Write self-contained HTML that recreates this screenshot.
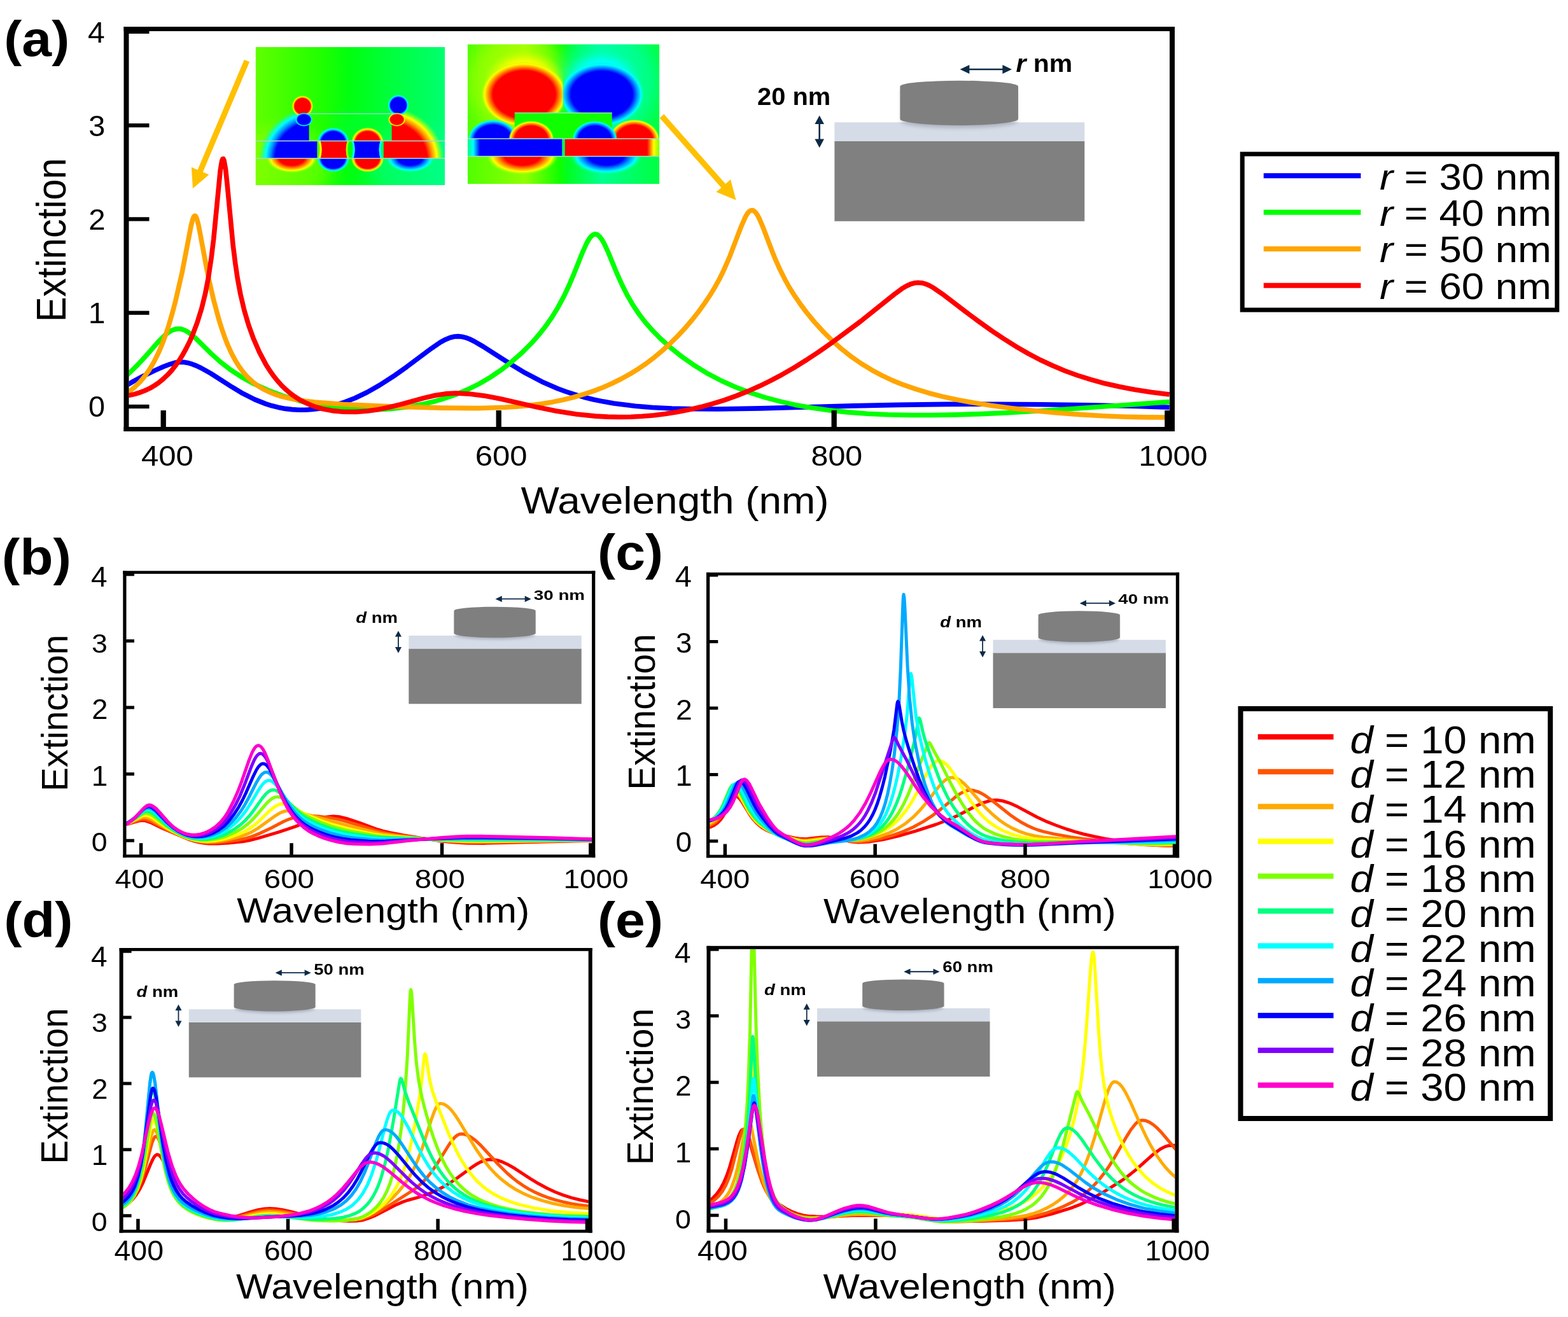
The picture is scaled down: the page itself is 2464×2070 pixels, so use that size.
<!DOCTYPE html>
<html><head><meta charset="utf-8"><title>Extinction spectra</title>
<style>
html,body{margin:0;padding:0;background:#fff;}
svg{display:block;}
text{font-family:"Liberation Sans", Arial, Helvetica, sans-serif;}
</style></head>
<body>
<svg width="2464" height="2070" viewBox="0 0 2464 2070">
<rect width="2464" height="2070" fill="#fff"/>
<defs>
<filter id="blur3" x="-20%" y="-50%" width="140%" height="200%"><feGaussianBlur stdDeviation="3"/></filter>
<filter id="blur12" x="-50%" y="-50%" width="200%" height="200%"><feGaussianBlur stdDeviation="12"/></filter>
<clipPath id="clipa"><rect x="202.5" y="49" width="1635.5" height="622"/></clipPath>
<clipPath id="clipb"><rect x="198.5" y="901.9" width="731.6" height="441.3"/></clipPath>
<clipPath id="clipc"><rect x="1115.3" y="904.4" width="732.5" height="439.2"/></clipPath>
<clipPath id="clipd"><rect x="193.6" y="1494.8" width="731.1" height="438"/></clipPath>
<clipPath id="clipe"><rect x="1116.5" y="1491.8" width="729.9" height="440.6"/></clipPath>
</defs>
<g clip-path="url(#clipa)" fill="none" stroke-width="7.6" stroke-linejoin="round"><path d="M193.5,608.7L208.7,599.9L224.0,591.7L241.6,583.1L256.9,576.3L267.5,572.3L275.7,569.9L281.6,569.1L288.7,569.2L294.5,570.2L301.6,572.2L308.6,574.9L315.7,578.2L331.0,586.8L365.1,608.6L381.5,618.4L400.3,627.9L417.9,634.9L427.3,637.8L437.9,640.4L448.5,642.4L459.1,643.6L469.7,644.2L480.2,644.2L490.8,643.5L502.6,642.1L520.2,638.6L539.0,633.0L557.8,625.7L576.6,616.7L596.6,605.4L617.7,591.8L638.9,576.8L677.7,547.8L691.8,538.2L700.0,533.7L707.1,530.7L714.1,529.0L720.0,528.6L725.9,529.2L731.7,530.6L737.6,532.8L744.7,536.2L760.0,545.1L804.6,573.8L825.8,586.4L851.6,599.9L876.3,610.7L889.2,615.5L903.3,620.2L917.4,624.2L932.7,628.0L948.0,631.1L964.5,634.0L998.5,638.3L1025.6,640.5L1056.1,642.0L1090.2,642.8L1127.8,643.0L1194.8,641.9L1340.5,637.9L1412.2,636.4L1488.6,635.4L1565.0,635.2L1636.7,635.7L1711.9,636.8L1777.8,638.3L1837.7,640.3" stroke="#0000ff"/><path d="M193.5,594.9L205.2,584.4L217.0,572.8L227.5,561.4L248.7,537.3L259.3,526.7L265.2,522.1L271.0,518.8L276.9,517.0L281.6,516.7L285.1,517.3L289.8,518.9L294.5,521.4L299.2,524.7L307.5,531.7L332.1,556.0L346.2,568.7L362.7,581.5L379.2,592.3L399.1,603.3L421.5,613.5L445.0,622.3L469.7,629.7L483.8,633.2L497.9,636.2L526.1,640.7L554.3,643.3L583.7,644.0L598.9,643.5L613.0,642.7L641.2,639.5L668.3,634.5L681.2,631.3L694.1,627.6L714.1,620.9L734.1,612.6L752.9,603.3L770.5,593.0L788.2,581.0L804.6,568.2L819.9,554.7L835.2,539.4L846.9,526.1L857.5,512.6L866.9,499.2L876.3,484.0L885.7,466.6L893.9,449.2L901.0,432.6L915.1,397.3L922.1,381.8L925.7,375.7L929.2,371.2L932.7,368.6L935.1,367.9L938.6,368.8L942.1,371.6L945.6,376.3L949.2,382.4L955.1,395.0L969.2,429.1L977.4,447.5L985.6,463.9L995.0,480.1L1004.4,494.0L1013.8,506.2L1025.6,519.7L1037.3,531.6L1053.8,546.5L1072.6,561.4L1092.6,575.3L1112.5,587.4L1133.7,598.5L1154.9,608.0L1177.2,616.6L1201.9,624.6L1225.4,630.9L1250.1,636.4L1275.9,641.0L1304.1,644.9L1332.3,647.9L1362.9,650.2L1395.8,651.7L1429.9,652.5L1464.0,652.5L1501.6,651.9L1541.5,650.6L1583.8,648.7L1674.3,643.2L1837.7,631.6" stroke="#00ff00"/><path d="M193.5,621.9L202.9,615.6L212.3,607.9L220.5,599.7L227.5,591.3L234.6,581.3L241.6,569.4L248.7,555.3L254.6,541.5L260.5,525.6L265.2,511.4L271.0,491.4L275.7,473.6L286.3,427.5L300.4,354.0L302.8,344.8L303.9,341.7L305.1,339.8L306.3,339.2L307.5,340.0L308.6,342.1L309.8,345.4L312.2,354.9L325.1,423.8L329.8,446.2L335.7,471.4L343.9,502.0L348.6,517.1L353.3,530.6L358.0,542.5L363.9,555.5L369.8,566.6L375.6,576.0L382.7,585.5L389.7,593.4L396.8,599.9L405.0,606.2L413.2,611.3L421.5,615.4L430.9,619.3L441.4,622.8L453.2,625.8L465.0,628.1L479.1,630.3L494.3,632.1L539.0,635.5L607.2,638.6L693.0,641.1L750.6,641.6L794.0,640.3L814.0,638.9L832.8,637.1L850.5,634.8L868.1,631.9L884.5,628.5L901.0,624.5L917.4,619.7L932.7,614.6L948.0,608.7L962.1,602.5L976.2,595.5L990.3,587.7L1003.2,579.7L1016.2,570.8L1029.1,560.9L1040.8,551.1L1052.6,540.4L1064.4,528.8L1076.1,516.2L1086.7,503.8L1097.3,490.5L1107.8,475.9L1116.1,463.5L1123.1,451.9L1130.2,439.2L1137.2,425.0L1146.6,403.5L1164.3,357.0L1171.3,340.9L1174.8,335.1L1177.2,332.5L1179.5,330.9L1181.9,330.5L1184.2,331.2L1187.8,334.4L1190.1,337.8L1193.6,344.4L1198.3,355.4L1211.3,389.7L1218.3,407.3L1225.4,423.1L1233.6,439.5L1240.6,452.0L1248.9,465.2L1258.3,478.9L1267.7,491.4L1280.6,507.0L1294.7,522.4L1308.8,536.3L1322.9,548.8L1338.2,560.9L1353.5,571.5L1369.9,581.6L1386.4,590.4L1402.8,598.1L1420.5,605.2L1439.3,611.7L1459.3,617.7L1480.4,623.1L1503.9,628.2L1529.8,633.0L1556.8,637.3L1588.5,641.5L1622.6,645.3L1659.1,648.7L1697.8,651.6L1734.3,653.7L1770.7,655.2L1804.8,655.9L1837.7,656.0" stroke="#ffa500"/><path d="M193.5,622.8L202.9,621.4L211.1,619.6L219.3,617.1L227.5,614.0L235.8,610.1L242.8,606.0L249.9,601.1L256.9,595.3L264.0,588.6L269.9,582.1L275.7,574.7L281.6,566.4L287.5,556.9L292.2,548.4L298.1,536.6L302.8,525.9L309.8,507.4L316.9,484.7L322.7,460.8L327.4,436.5L332.1,405.2L335.7,375.6L346.2,267.6L348.6,253.3L349.8,250.0L350.9,249.7L352.1,252.4L354.5,265.7L356.8,287.1L366.2,385.5L369.8,414.1L373.3,437.7L378.0,463.0L383.9,488.0L390.9,511.8L398.0,531.4L407.4,553.1L417.9,572.9L423.8,582.3L429.7,590.6L435.6,598.0L442.6,605.9L449.7,612.7L456.7,618.6L463.8,623.8L472.0,628.9L480.2,633.1L488.5,636.7L496.7,639.7L506.1,642.4L522.5,645.6L540.2,647.3L559.0,647.4L577.8,646.0L595.4,643.4L613.0,639.7L629.5,635.6L665.9,625.6L683.6,621.5L700.0,618.9L716.5,618.0L738.8,619.2L762.3,622.3L787.0,627.0L844.6,640.1L874.0,646.0L905.7,651.0L936.2,654.1L955.1,655.1L972.7,655.5L991.5,655.2L1009.1,654.3L1027.9,652.7L1045.6,650.5L1064.4,647.6L1082.0,644.1L1100.8,639.8L1119.6,634.7L1138.4,628.8L1157.2,622.1L1176.0,614.6L1193.6,606.8L1211.3,598.2L1228.9,588.8L1247.7,578.0L1266.5,566.3L1286.5,553.1L1307.6,538.3L1352.3,505.1L1405.2,462.8L1416.9,454.1L1424.0,449.8L1431.0,446.5L1436.9,444.8L1442.8,444.2L1448.7,444.7L1454.6,446.3L1460.4,448.8L1467.5,452.8L1481.6,462.6L1516.8,489.6L1539.2,506.1L1559.2,520.3L1576.8,532.1L1596.8,544.7L1615.6,555.6L1634.4,565.5L1653.2,574.3L1673.2,582.7L1693.1,590.0L1714.3,596.7L1736.6,602.8L1759.0,607.8L1783.6,612.5L1809.5,616.5L1837.7,620.0" stroke="#ff0000"/></g>
<g clip-path="url(#clipb)" fill="none" stroke-width="5" stroke-linejoin="round"><path d="M193.2,1296.4L202.8,1294.7L219.8,1289.9L224.1,1289.5L228.7,1290.1L236.7,1292.8L258.9,1303.5L296.6,1319.3L304.0,1321.7L313.2,1324.0L320.6,1325.3L327.7,1325.9L342.2,1325.9L358.9,1324.9L381.4,1322.7L392.2,1320.9L405.8,1317.4L437.9,1307.8L464.1,1299.1L485.4,1290.7L494.6,1287.6L511.3,1284.2L523.6,1283.0L532.9,1283.8L544.3,1286.4L565.3,1293.3L592.7,1303.5L601.7,1306.2L611.6,1308.5L633.8,1312.8L664.0,1317.7L689.6,1321.4L710.6,1323.8L734.0,1325.3L760.6,1325.4L933.3,1321.2" stroke="#ff0000"/><path d="M193.2,1296.4L203.7,1294.1L220.7,1288.1L225.0,1287.6L229.3,1288.1L237.3,1290.9L261.1,1303.6L281.8,1313.0L292.9,1317.6L301.2,1320.4L309.8,1322.6L318.2,1324.1L325.9,1324.8L338.8,1324.5L353.3,1323.3L374.0,1320.2L386.7,1317.7L397.2,1314.4L408.9,1309.6L426.5,1301.2L445.6,1291.2L454.8,1287.3L461.6,1285.4L470.6,1283.6L478.9,1282.7L487.9,1282.3L499.9,1283.0L519.0,1285.4L529.8,1287.4L541.2,1290.4L565.0,1297.4L590.9,1305.6L607.9,1309.6L627.6,1312.9L652.6,1316.3L682.5,1320.1L705.0,1322.4L730.7,1324.0L756.9,1324.2L933.3,1320.9" stroke="#ff5500"/><path d="M193.2,1296.2L198.8,1294.9L204.3,1293.0L221.6,1285.3L225.6,1284.5L229.6,1284.7L233.9,1286.0L238.9,1288.3L258.3,1300.3L271.0,1307.0L284.2,1313.4L295.0,1317.7L305.2,1320.7L316.6,1322.7L325.9,1323.3L337.3,1322.8L348.4,1321.5L357.4,1319.9L375.9,1315.3L387.3,1311.4L395.9,1307.4L404.9,1302.1L430.5,1283.7L438.5,1278.6L442.8,1276.6L446.8,1275.2L450.8,1274.4L455.2,1274.2L460.1,1274.7L467.8,1276.4L550.2,1298.4L595.5,1309.7L604.5,1311.3L621.1,1313.5L671.7,1318.9L709.7,1322.0L740.8,1323.1L772.9,1323.0L933.3,1320.7" stroke="#ffaa00"/><path d="M193.2,1296.1L199.1,1294.4L204.9,1292.0L222.8,1282.4L226.5,1281.4L230.2,1281.5L234.9,1282.8L239.8,1285.4L259.2,1299.0L271.0,1306.0L282.7,1312.1L293.2,1316.5L304.0,1319.8L316.0,1321.8L326.2,1322.2L338.2,1321.2L348.7,1319.4L357.0,1317.3L374.3,1311.5L385.4,1306.4L393.4,1301.5L401.5,1295.4L408.9,1288.8L423.7,1274.4L430.5,1268.8L434.2,1266.4L437.9,1264.7L441.3,1263.8L445.0,1263.6L449.3,1264.2L453.9,1265.7L458.9,1268.1L473.7,1276.6L482.9,1281.1L505.4,1290.2L521.2,1295.7L535.7,1299.9L549.9,1303.4L587.8,1311.1L602.9,1313.4L624.8,1315.4L680.4,1319.6L706.6,1321.1L729.4,1321.9L765.8,1322.0L933.3,1320.5" stroke="#ffff00"/><path d="M193.2,1296.0L199.7,1293.8L205.9,1290.9L223.8,1279.6L227.5,1278.3L231.2,1278.3L235.8,1279.6L241.0,1282.6L259.9,1297.3L271.0,1304.7L281.5,1310.6L291.6,1315.1L302.7,1318.5L314.8,1320.4L325.6,1320.6L337.6,1319.1L347.8,1316.8L356.1,1314.1L371.9,1306.9L381.7,1301.1L389.1,1295.5L396.8,1288.2L403.6,1280.8L417.2,1264.6L423.4,1258.3L426.8,1255.6L430.2,1253.7L433.2,1252.7L436.6,1252.4L441.9,1253.6L447.4,1256.6L452.7,1260.6L467.8,1273.5L478.3,1280.7L488.8,1286.1L506.1,1293.5L523.3,1299.5L541.8,1304.6L555.1,1307.3L593.1,1313.9L611.9,1315.7L661.9,1318.3L694.9,1319.8L723.9,1320.7L759.7,1320.9L933.3,1320.3" stroke="#80ff00"/><path d="M193.2,1296.1L200.0,1293.5L206.5,1290.1L225.0,1276.7L228.7,1275.2L232.1,1275.0L236.7,1276.5L242.0,1279.6L260.8,1295.9L271.3,1303.6L280.8,1309.3L290.4,1313.8L301.8,1317.4L313.5,1319.1L325.0,1319.0L337.0,1317.0L346.9,1314.2L355.2,1310.9L369.7,1302.3L378.3,1296.0L385.4,1289.5L392.5,1281.6L399.0,1273.2L412.0,1254.9L417.5,1248.2L420.6,1245.2L423.7,1243.1L426.5,1241.9L429.5,1241.5L432.0,1241.9L434.5,1242.7L440.0,1246.4L445.3,1251.5L459.5,1267.6L466.3,1274.4L474.9,1281.5L484.5,1287.5L502.4,1295.8L518.4,1301.7L537.8,1307.1L556.3,1310.7L585.0,1315.0L599.8,1316.6L668.3,1318.7L735.9,1319.7L865.2,1319.7L933.3,1320.1" stroke="#00ff80"/><path d="M193.2,1296.2L200.6,1293.1L207.4,1289.1L226.2,1273.8L229.6,1272.2L233.0,1271.9L237.7,1273.3L242.9,1276.6L261.7,1294.2L271.9,1302.3L280.8,1308.0L289.8,1312.3L295.7,1314.4L301.2,1315.8L312.6,1317.2L318.5,1317.2L324.3,1316.7L336.1,1314.0L345.6,1310.5L354.3,1306.0L367.2,1295.7L373.7,1289.8L380.8,1281.9L387.6,1272.7L393.8,1263.0L406.1,1242.0L411.3,1234.3L414.4,1230.8L417.2,1228.4L420.0,1227.0L422.8,1226.6L425.2,1227.1L427.7,1228.2L432.9,1232.8L438.2,1239.4L452.1,1259.9L459.8,1270.2L468.1,1279.1L477.4,1286.7L483.2,1290.4L489.7,1293.9L507.9,1301.8L526.1,1307.6L544.9,1312.0L583.5,1317.2L604.2,1318.6L817.7,1318.9L933.3,1319.9" stroke="#00ffff"/><path d="M193.2,1296.5L200.6,1293.2L207.7,1288.7L212.7,1284.7L222.8,1275.0L226.9,1271.8L230.2,1270.1L233.6,1269.8L238.3,1271.2L243.5,1274.8L262.0,1293.2L271.6,1301.3L280.2,1307.1L289.2,1311.5L295.0,1313.6L300.6,1315.0L306.1,1315.8L312.0,1316.1L317.9,1315.9L323.7,1315.1L329.6,1313.8L335.4,1311.9L345.0,1307.6L353.7,1302.2L360.1,1296.3L371.2,1284.5L378.0,1275.6L384.5,1265.3L390.4,1254.6L402.4,1230.9L407.3,1222.4L410.4,1218.3L413.2,1215.6L416.0,1214.0L418.4,1213.6L420.6,1214.0L423.1,1215.4L425.5,1217.5L428.3,1220.8L433.6,1228.9L447.4,1254.0L455.2,1266.4L463.8,1277.7L473.0,1286.9L478.9,1291.4L485.1,1295.3L492.2,1299.0L501.1,1303.0L518.4,1309.2L537.5,1314.1L547.1,1315.8L558.2,1317.2L583.2,1319.7L598.3,1320.4L736.8,1317.5L856.5,1318.5L933.3,1319.8" stroke="#00aaff"/><path d="M193.2,1296.9L200.9,1293.2L208.0,1288.4L213.3,1283.8L223.5,1273.5L227.5,1270.0L230.9,1268.2L233.9,1267.8L236.4,1268.3L238.9,1269.4L244.1,1273.1L262.3,1292.2L271.9,1300.7L280.2,1306.5L288.6,1310.7L294.1,1312.7L299.7,1314.0L304.9,1314.8L310.8,1314.9L316.9,1314.5L322.8,1313.5L328.4,1311.9L334.2,1309.7L343.8,1304.6L352.7,1297.9L358.9,1291.3L368.2,1279.2L374.6,1269.4L381.1,1257.5L387.0,1245.1L398.1,1219.8L403.0,1210.0L405.8,1205.7L408.6,1202.5L411.0,1200.7L413.5,1200.2L415.7,1200.6L418.1,1202.1L420.6,1204.7L423.4,1208.6L428.3,1217.6L442.2,1247.6L449.6,1261.9L458.5,1275.8L463.2,1281.6L467.8,1286.7L473.0,1291.5L478.9,1296.0L485.1,1299.9L491.9,1303.5L501.1,1307.6L509.8,1310.8L519.3,1313.8L529.2,1316.3L540.9,1318.6L551.7,1320.1L579.5,1322.2L591.5,1322.6L606.0,1322.3L640.6,1320.2L701.3,1317.4L734.7,1316.5L851.3,1317.8L933.3,1319.6" stroke="#0000ff"/><path d="M193.2,1297.5L200.9,1293.7L208.3,1288.5L213.6,1283.8L224.1,1272.7L228.1,1269.1L231.5,1267.2L234.6,1266.7L239.2,1268.2L244.4,1272.0L249.1,1276.6L262.9,1292.0L271.9,1300.2L279.9,1305.9L288.2,1310.1L293.5,1311.9L299.0,1313.2L304.3,1313.8L310.2,1313.7L316.0,1313.0L321.9,1311.7L327.7,1309.7L333.3,1307.1L341.9,1301.7L349.9,1294.8L355.8,1288.2L362.3,1278.5L370.3,1264.8L377.1,1250.8L383.3,1235.8L394.7,1205.6L399.3,1195.0L402.1,1190.0L404.6,1186.8L407.0,1184.8L409.5,1184.2L411.7,1184.8L414.1,1186.6L416.6,1189.5L419.4,1194.1L424.3,1204.5L438.2,1239.1L445.6,1255.6L449.9,1264.0L454.5,1271.8L459.2,1278.6L463.8,1284.5L469.0,1290.2L474.9,1295.5L481.1,1300.2L487.9,1304.4L495.6,1308.3L504.5,1312.1L513.8,1315.4L523.6,1318.2L536.3,1321.0L548.0,1322.7L560.4,1323.6L586.0,1324.7L603.5,1324.0L640.3,1320.8L699.2,1316.8L733.7,1315.4L772.0,1315.6L847.9,1317.1L933.3,1319.4" stroke="#7f00ff"/><path d="M193.2,1298.0L200.3,1294.3L206.8,1289.9L213.9,1283.4L227.5,1268.7L231.5,1265.9L234.9,1265.1L237.3,1265.6L239.8,1266.7L245.1,1270.6L249.7,1275.4L263.3,1291.0L271.9,1299.2L279.6,1304.8L287.6,1308.9L292.9,1310.6L298.1,1311.8L303.4,1312.2L308.9,1312.0L314.8,1311.1L320.3,1309.5L325.9,1307.3L331.4,1304.4L339.2,1299.1L346.6,1292.2L353.0,1284.4L358.3,1276.1L367.5,1258.1L373.7,1244.1L379.9,1227.8L391.3,1194.9L395.9,1183.4L398.7,1178.0L401.2,1174.4L403.6,1172.3L406.1,1171.6L408.6,1172.5L411.0,1174.7L413.5,1178.1L416.3,1183.2L421.2,1194.9L434.8,1232.5L442.5,1251.6L446.8,1260.8L451.4,1269.5L456.1,1277.1L460.7,1283.6L466.3,1290.3L472.1,1296.2L478.3,1301.4L485.1,1306.2L492.2,1310.2L500.5,1314.1L509.8,1317.7L519.3,1320.6L532.6,1323.8L545.2,1325.7L557.6,1326.5L581.3,1327.1L601.4,1326.0L640.3,1321.5L697.3,1316.3L716.5,1315.0L732.8,1314.3L756.6,1314.3L790.5,1314.9L875.0,1317.1L933.3,1319.2" stroke="#ff00cc"/></g>
<g clip-path="url(#clipc)" fill="none" stroke-width="5" stroke-linejoin="round"><path d="M1111.1,1301.5L1117.3,1299.5L1122.5,1296.9L1127.4,1293.4L1131.7,1289.1L1135.4,1284.3L1138.8,1278.8L1150.5,1255.4L1152.9,1252.2L1155.4,1250.9L1157.3,1251.2L1159.1,1252.2L1163.1,1256.2L1166.5,1261.1L1178.8,1281.2L1183.4,1287.4L1188.0,1292.6L1192.9,1297.2L1198.5,1301.4L1204.3,1304.8L1210.5,1307.5L1224.9,1311.8L1248.0,1316.9L1256.3,1318.3L1266.8,1318.7L1290.8,1316.0L1301.8,1315.8L1313.8,1317.5L1338.2,1323.0L1348.9,1324.1L1367.1,1322.9L1388.0,1319.5L1411.4,1314.1L1438.4,1306.4L1470.4,1296.0L1488.9,1289.0L1504.0,1282.2L1533.8,1266.8L1545.5,1261.6L1556.3,1258.4L1561.5,1257.7L1566.4,1257.6L1576.3,1259.0L1586.7,1262.3L1599.3,1268.1L1629.5,1284.3L1645.5,1291.7L1659.0,1297.0L1675.6,1303.0L1689.5,1307.4L1702.7,1311.0L1719.3,1314.8L1736.3,1318.1L1760.6,1322.0L1783.0,1325.1L1801.5,1327.2L1818.4,1328.6L1834.1,1329.2L1849.2,1329.3" stroke="#ff0000"/><path d="M1111.1,1299.3L1116.6,1297.2L1121.9,1294.4L1126.5,1290.8L1130.5,1286.6L1134.2,1281.6L1137.6,1275.9L1149.6,1251.0L1152.3,1247.6L1153.6,1246.9L1154.8,1246.8L1156.3,1247.2L1158.2,1248.3L1161.9,1252.2L1165.3,1257.4L1178.2,1279.4L1183.1,1286.2L1188.3,1292.1L1194.2,1297.5L1200.9,1302.2L1208.3,1306.3L1216.3,1309.6L1224.3,1312.1L1248.0,1317.9L1260.6,1320.1L1268.3,1320.1L1290.8,1317.4L1300.6,1316.9L1312.3,1317.9L1333.8,1321.9L1342.8,1323.0L1351.1,1323.1L1364.6,1321.7L1382.5,1318.4L1400.6,1313.6L1418.4,1307.4L1435.1,1300.0L1450.8,1291.4L1466.1,1281.3L1478.4,1271.9L1500.0,1253.8L1508.0,1248.0L1512.9,1245.2L1517.5,1243.3L1521.8,1242.3L1526.1,1242.0L1531.4,1242.8L1536.6,1244.4L1542.1,1246.9L1548.3,1250.5L1558.4,1257.7L1588.0,1281.2L1597.2,1287.6L1606.4,1293.3L1614.7,1297.7L1623.0,1301.5L1631.0,1304.5L1640.0,1307.1L1656.3,1310.9L1683.0,1315.6L1703.9,1318.6L1732.6,1321.9L1776.6,1326.0L1803.3,1328.1L1827.3,1329.1L1849.2,1329.0" stroke="#ff5500"/><path d="M1111.1,1296.9L1116.3,1294.7L1121.3,1291.8L1125.6,1288.2L1129.6,1283.7L1133.3,1278.4L1136.6,1272.3L1148.3,1247.1L1151.1,1243.5L1152.3,1242.7L1153.6,1242.6L1155.1,1243.0L1156.9,1244.1L1160.6,1248.3L1164.0,1253.6L1177.2,1277.1L1182.5,1284.6L1188.0,1291.0L1194.5,1296.8L1202.5,1302.5L1210.5,1306.9L1219.4,1310.7L1250.2,1319.3L1256.9,1320.7L1262.8,1321.4L1269.5,1321.2L1292.3,1318.3L1300.6,1317.7L1311.7,1318.1L1333.5,1320.9L1342.5,1321.6L1351.1,1321.2L1364.6,1319.2L1380.9,1315.1L1396.0,1309.7L1409.8,1302.9L1422.8,1294.5L1434.4,1284.9L1445.5,1273.7L1455.4,1262.0L1473.8,1238.2L1481.2,1229.9L1485.2,1226.4L1489.2,1223.8L1492.9,1222.4L1496.6,1222.0L1500.9,1222.7L1505.2,1224.4L1509.8,1227.3L1514.4,1231.1L1523.0,1239.9L1540.9,1260.8L1549.2,1269.9L1559.7,1280.0L1570.1,1288.7L1580.0,1295.6L1590.4,1301.6L1601.5,1306.6L1612.9,1310.6L1625.8,1313.8L1640.0,1316.0L1704.9,1321.4L1799.0,1327.5L1825.8,1328.2L1849.2,1327.9" stroke="#ffaa00"/><path d="M1111.1,1294.4L1116.0,1292.1L1120.6,1289.0L1124.9,1285.1L1128.6,1280.7L1132.0,1275.6L1135.4,1269.4L1147.1,1243.1L1149.9,1239.4L1151.1,1238.6L1152.3,1238.4L1153.9,1238.8L1155.7,1240.0L1159.4,1244.2L1162.8,1249.8L1176.3,1274.8L1181.6,1282.5L1187.4,1289.4L1194.2,1295.7L1203.4,1302.3L1212.6,1307.6L1221.6,1311.6L1251.7,1320.5L1258.5,1322.0L1264.6,1322.6L1272.3,1322.1L1295.1,1318.8L1303.1,1318.2L1313.2,1318.3L1334.8,1319.7L1344.3,1319.6L1352.6,1318.5L1363.7,1316.0L1378.1,1311.1L1384.9,1308.0L1391.1,1304.6L1396.9,1300.9L1402.8,1296.5L1408.3,1291.7L1413.5,1286.4L1423.1,1274.9L1432.6,1260.6L1440.9,1245.8L1456.3,1215.9L1462.4,1205.6L1465.8,1201.1L1469.2,1197.9L1472.6,1196.0L1475.7,1195.6L1479.7,1196.5L1484.0,1198.9L1488.3,1202.7L1492.9,1208.1L1501.2,1220.0L1518.4,1248.3L1526.7,1261.1L1535.7,1273.2L1544.3,1283.0L1553.5,1291.4L1564.3,1299.1L1575.3,1305.2L1587.7,1310.3L1598.7,1313.6L1611.0,1316.4L1623.7,1318.3L1636.6,1319.5L1793.8,1326.4L1823.6,1327.0L1849.2,1326.5" stroke="#ffff00"/><path d="M1111.1,1292.7L1116.0,1290.2L1120.6,1287.0L1124.9,1282.9L1128.6,1278.3L1132.0,1273.0L1135.4,1266.5L1147.1,1239.1L1149.9,1235.2L1151.1,1234.4L1152.3,1234.2L1153.9,1234.7L1155.7,1235.9L1159.4,1240.3L1163.1,1246.7L1176.3,1272.3L1181.6,1280.4L1187.4,1287.7L1194.5,1294.6L1205.2,1302.7L1214.8,1308.7L1223.4,1312.7L1252.9,1322.4L1260.0,1324.0L1266.2,1324.5L1275.1,1323.8L1295.7,1320.7L1303.4,1319.9L1312.6,1319.7L1334.2,1320.2L1344.0,1319.7L1355.1,1317.7L1367.4,1314.1L1374.5,1311.2L1381.2,1307.8L1387.4,1304.0L1392.9,1299.8L1398.1,1295.0L1403.4,1289.4L1408.3,1283.1L1412.9,1276.3L1420.0,1263.8L1427.1,1248.6L1433.2,1233.5L1445.5,1200.9L1454.1,1180.1L1457.8,1170.2L1459.1,1167.9L1460.0,1167.3L1460.9,1167.8L1462.1,1169.5L1467.4,1179.9L1476.9,1197.0L1494.4,1232.0L1503.1,1248.2L1511.4,1262.4L1519.0,1273.9L1529.2,1286.7L1534.4,1292.2L1539.7,1297.0L1544.6,1300.8L1549.5,1304.0L1562.1,1310.1L1575.3,1314.6L1590.1,1318.1L1607.7,1320.9L1625.2,1322.4L1685.8,1323.1L1799.3,1325.8L1825.8,1325.9L1849.2,1325.2" stroke="#80ff00"/><path d="M1111.1,1292.0L1116.3,1289.6L1121.3,1286.4L1125.6,1282.5L1129.6,1277.6L1133.3,1271.8L1136.6,1265.3L1148.3,1238.0L1151.1,1234.1L1152.3,1233.3L1153.6,1233.2L1155.1,1233.7L1156.9,1234.9L1160.3,1239.0L1163.7,1244.7L1173.6,1264.4L1179.1,1274.2L1185.9,1283.9L1192.9,1291.7L1206.8,1303.1L1218.2,1310.7L1224.3,1313.6L1247.7,1322.1L1254.8,1324.4L1260.9,1325.9L1266.2,1326.4L1271.7,1326.1L1303.4,1321.6L1332.9,1320.4L1343.4,1319.4L1349.8,1318.1L1356.3,1316.3L1362.8,1314.0L1368.6,1311.5L1375.1,1307.9L1380.9,1303.7L1386.5,1298.8L1391.4,1293.4L1396.0,1287.3L1400.6,1279.8L1404.9,1271.5L1408.9,1262.5L1413.2,1251.3L1417.5,1238.4L1426.8,1205.8L1436.6,1166.9L1439.4,1153.3L1442.8,1132.9L1443.7,1129.4L1444.3,1128.7L1445.2,1129.6L1446.4,1133.2L1450.4,1151.2L1453.2,1161.6L1460.3,1182.4L1476.9,1226.5L1483.4,1241.3L1489.8,1254.3L1495.4,1263.9L1501.5,1273.1L1508.3,1282.1L1515.0,1289.9L1522.1,1296.9L1529.2,1302.9L1536.3,1307.9L1543.4,1311.8L1548.9,1314.1L1556.3,1316.5L1574.1,1320.5L1594.4,1323.2L1617.5,1324.9L1634.7,1325.1L1692.3,1324.2L1803.9,1324.8L1849.2,1323.8" stroke="#00ff80"/><path d="M1111.1,1291.8L1117.3,1289.3L1122.5,1286.2L1127.1,1282.3L1131.4,1277.3L1135.1,1271.7L1138.8,1264.7L1150.5,1237.3L1153.3,1233.3L1154.5,1232.4L1155.7,1232.1L1157.3,1232.5L1159.1,1233.7L1162.8,1238.1L1166.8,1245.1L1176.9,1265.6L1181.9,1274.2L1188.6,1283.9L1195.7,1291.7L1209.2,1303.9L1219.7,1311.4L1226.5,1314.6L1252.9,1325.2L1262.2,1327.7L1266.5,1328.1L1270.5,1328.1L1280.3,1327.0L1304.3,1323.0L1337.5,1319.9L1346.8,1318.1L1355.4,1315.3L1363.4,1311.6L1370.5,1307.2L1376.6,1302.0L1381.8,1296.3L1386.8,1289.3L1391.1,1281.7L1395.4,1272.1L1399.4,1261.3L1403.1,1249.4L1406.8,1235.4L1410.8,1217.8L1414.8,1197.6L1421.8,1154.4L1425.5,1122.4L1429.8,1066.5L1430.8,1059.6L1431.4,1058.7L1432.3,1061.6L1433.2,1068.1L1439.1,1123.7L1443.7,1151.1L1448.6,1172.8L1454.7,1196.2L1461.2,1217.9L1467.4,1235.6L1472.6,1248.5L1478.1,1260.1L1484.0,1270.2L1490.1,1278.9L1496.3,1285.9L1505.8,1294.8L1515.7,1302.8L1525.5,1309.6L1532.3,1313.5L1538.7,1316.7L1544.9,1319.1L1550.7,1320.7L1562.4,1322.8L1575.0,1324.5L1588.9,1325.7L1604.6,1326.6L1628.6,1326.9L1688.6,1324.8L1799.6,1323.7L1849.2,1322.3" stroke="#00ffff"/><path d="M1111.1,1291.8L1118.2,1289.4L1124.3,1286.2L1129.6,1282.1L1134.2,1277.0L1138.2,1271.1L1141.9,1264.2L1154.2,1235.0L1156.6,1231.4L1157.9,1230.4L1159.1,1230.0L1160.9,1230.5L1162.8,1231.8L1166.8,1236.9L1170.5,1243.7L1181.6,1266.3L1189.2,1279.2L1195.1,1286.7L1207.1,1299.7L1215.4,1307.3L1222.8,1312.5L1248.0,1324.3L1256.3,1327.6L1261.2,1329.0L1265.5,1329.7L1274.8,1329.5L1283.7,1328.3L1303.7,1324.6L1328.6,1321.5L1339.1,1319.6L1349.2,1316.6L1358.5,1312.4L1366.1,1307.2L1372.6,1300.9L1377.8,1293.9L1382.8,1285.0L1387.1,1274.7L1391.1,1262.4L1394.8,1248.2L1398.4,1230.6L1401.8,1210.9L1404.9,1189.4L1409.5,1147.3L1412.9,1101.0L1415.4,1047.9L1418.8,949.0L1419.4,938.3L1420.0,934.3L1420.9,939.0L1421.8,952.3L1426.1,1047.5L1429.2,1095.7L1433.2,1135.3L1436.0,1155.0L1439.1,1173.2L1443.4,1194.6L1448.3,1215.0L1453.5,1233.2L1459.1,1248.9L1464.9,1262.3L1471.1,1273.5L1477.8,1282.9L1485.2,1290.7L1490.4,1295.0L1496.3,1298.9L1521.2,1313.5L1534.4,1320.2L1541.2,1322.8L1547.7,1324.6L1568.3,1327.1L1593.5,1328.4L1622.4,1328.5L1693.5,1325.1L1796.2,1322.6L1849.2,1320.7" stroke="#00aaff"/><path d="M1111.1,1291.1L1119.1,1289.0L1125.9,1286.0L1131.7,1281.9L1136.9,1276.5L1141.3,1270.3L1145.3,1262.8L1157.9,1232.7L1160.3,1229.1L1161.6,1228.2L1162.8,1227.9L1164.3,1228.4L1166.2,1229.6L1169.6,1233.7L1173.6,1240.9L1184.6,1263.9L1190.2,1273.8L1198.2,1285.1L1209.9,1299.3L1216.9,1306.3L1223.1,1311.0L1251.7,1325.5L1259.1,1328.3L1265.5,1329.6L1272.0,1329.5L1280.3,1328.5L1317.5,1320.1L1327.7,1317.5L1338.2,1313.8L1347.1,1309.1L1352.6,1305.2L1357.8,1300.3L1362.5,1294.9L1366.8,1288.7L1370.8,1281.6L1374.8,1273.0L1378.5,1263.5L1382.1,1252.4L1386.1,1238.5L1390.5,1221.1L1399.4,1178.7L1404.9,1146.6L1409.8,1106.4L1410.4,1103.5L1411.1,1102.5L1412.0,1103.9L1412.9,1107.5L1417.2,1134.2L1420.0,1148.0L1423.4,1161.2L1428.0,1176.7L1437.2,1205.0L1444.9,1226.3L1452.3,1243.9L1459.7,1258.5L1465.5,1268.0L1471.4,1276.0L1477.5,1283.0L1484.3,1289.2L1493.8,1296.0L1523.0,1313.5L1532.6,1318.7L1538.7,1321.5L1544.6,1323.5L1549.2,1324.6L1556.9,1325.6L1580.3,1327.5L1610.7,1328.2L1634.1,1327.6L1697.2,1324.2L1775.9,1321.7L1849.2,1318.7" stroke="#0000ff"/><path d="M1111.1,1290.3L1120.0,1288.3L1127.7,1285.3L1133.9,1281.4L1139.4,1276.1L1144.0,1269.9L1148.3,1262.0L1152.0,1253.7L1159.1,1235.6L1161.6,1230.4L1164.0,1226.9L1165.3,1226.0L1166.5,1225.9L1168.3,1226.5L1170.2,1228.0L1173.9,1232.9L1191.1,1267.8L1196.0,1276.0L1205.6,1289.9L1212.3,1298.6L1218.2,1304.8L1223.1,1308.9L1230.2,1313.2L1247.4,1322.5L1254.5,1325.9L1261.5,1328.3L1268.0,1329.1L1277.2,1328.2L1288.3,1325.7L1312.6,1317.9L1324.0,1313.5L1330.5,1310.3L1336.3,1306.8L1341.5,1302.9L1346.5,1298.4L1351.1,1293.4L1355.4,1287.8L1359.7,1281.3L1363.7,1274.1L1369.8,1261.1L1376.0,1245.3L1402.8,1163.0L1404.0,1160.0L1405.2,1159.0L1406.4,1159.9L1407.7,1161.9L1412.3,1171.7L1423.7,1192.7L1440.3,1226.5L1448.3,1241.7L1457.8,1257.3L1467.7,1270.5L1477.8,1281.2L1488.9,1290.0L1504.6,1299.7L1528.0,1315.0L1535.7,1319.2L1542.4,1322.1L1547.0,1323.5L1551.4,1324.3L1571.3,1326.4L1592.6,1327.3L1618.7,1327.5L1640.6,1326.7L1697.8,1323.3L1753.5,1321.1L1849.2,1316.6" stroke="#7f00ff"/><path d="M1111.1,1289.2L1121.3,1287.4L1129.6,1284.7L1136.3,1280.8L1142.2,1275.6L1147.1,1269.3L1151.7,1261.1L1164.9,1229.5L1167.7,1225.7L1168.9,1224.9L1170.2,1224.8L1172.0,1225.6L1173.9,1227.1L1177.6,1232.2L1192.9,1263.6L1205.6,1285.0L1214.2,1297.2L1218.2,1301.9L1221.9,1305.5L1229.5,1310.8L1246.5,1320.6L1253.9,1324.4L1260.0,1326.7L1265.5,1327.8L1271.1,1327.7L1278.5,1326.4L1286.8,1324.1L1303.4,1317.4L1312.6,1312.9L1319.4,1309.1L1325.5,1304.9L1331.1,1300.6L1336.3,1295.8L1341.5,1290.2L1351.1,1277.6L1360.0,1262.6L1368.0,1246.5L1382.5,1214.2L1388.0,1203.6L1391.1,1199.0L1394.1,1195.7L1396.9,1194.0L1400.0,1193.5L1403.7,1194.1L1407.7,1196.0L1412.0,1199.4L1416.3,1203.9L1424.0,1213.9L1442.1,1241.0L1451.7,1254.2L1462.1,1266.7L1472.9,1277.3L1479.4,1282.6L1485.8,1287.3L1504.9,1298.7L1528.9,1315.0L1538.1,1320.2L1546.4,1323.3L1559.4,1325.3L1576.6,1326.6L1598.1,1327.2L1622.7,1327.0L1646.1,1326.0L1698.7,1322.5L1746.1,1320.3L1849.2,1314.6" stroke="#ff00cc"/></g>
<g clip-path="url(#clipd)" fill="none" stroke-width="5" stroke-linejoin="round"><path d="M188.6,1899.8L196.3,1895.4L203.1,1890.3L208.9,1884.5L214.4,1877.4L219.4,1869.4L224.3,1859.7L236.6,1829.8L240.0,1822.4L242.1,1818.7L244.0,1816.4L245.8,1815.0L247.3,1814.7L249.2,1815.2L251.0,1816.5L254.7,1821.4L258.7,1829.4L269.5,1855.1L275.9,1868.6L283.3,1880.9L287.3,1886.2L291.6,1891.0L296.5,1895.6L302.1,1899.8L307.9,1903.4L314.0,1906.4L321.1,1909.2L328.5,1911.4L336.8,1913.3L344.8,1914.5L353.7,1914.8L363.5,1913.6L374.3,1911.0L396.1,1904.2L405.3,1901.7L415.2,1899.9L423.8,1899.4L433.6,1900.0L444.7,1901.7L456.1,1904.1L490.2,1912.6L515.4,1916.6L532.0,1918.4L546.7,1919.2L560.6,1919.1L568.6,1918.0L577.5,1915.4L587.6,1911.4L620.2,1894.8L632.2,1889.4L640.5,1886.5L654.9,1882.6L666.0,1879.1L676.5,1875.2L686.3,1870.8L698.0,1864.8L709.3,1857.8L719.8,1850.6L740.4,1835.4L749.9,1829.2L755.1,1826.4L760.1,1824.4L765.0,1823.1L769.6,1822.5L776.0,1822.8L782.5,1824.0L789.3,1826.2L796.3,1829.4L808.6,1836.3L833.8,1852.8L846.1,1860.3L859.4,1867.5L872.3,1873.5L884.9,1878.4L898.1,1882.6L911.6,1886.0L926.1,1888.9" stroke="#ff0000"/><path d="M188.6,1899.6L196.9,1894.5L204.3,1888.0L210.8,1879.8L216.3,1870.1L220.9,1859.4L225.5,1845.8L239.0,1795.9L241.8,1789.2L243.3,1787.0L244.6,1786.2L246.1,1786.4L248.0,1788.1L251.3,1794.9L254.7,1805.2L263.0,1835.0L267.6,1849.9L273.2,1864.6L278.7,1876.0L285.5,1886.3L293.1,1894.7L302.1,1901.6L312.5,1907.1L322.3,1910.8L333.4,1913.6L345.1,1915.5L354.3,1915.8L362.0,1915.0L370.3,1913.5L398.6,1905.7L408.7,1903.4L418.6,1902.1L428.1,1902.1L437.3,1902.9L447.8,1904.5L483.4,1912.2L497.2,1914.6L524.0,1917.3L545.5,1918.1L558.4,1917.5L566.1,1916.5L575.0,1914.0L584.9,1909.9L594.7,1904.9L606.4,1898.0L646.3,1872.5L653.1,1867.7L659.5,1862.4L665.7,1856.6L671.5,1850.2L677.4,1842.9L687.5,1828.3L705.4,1799.5L711.8,1790.7L715.2,1787.0L718.6,1784.3L721.9,1782.7L725.0,1782.2L729.9,1782.8L735.2,1784.6L740.4,1787.4L746.2,1791.7L756.4,1801.2L782.8,1830.0L797.0,1844.0L804.9,1850.9L813.2,1857.4L821.9,1863.3L830.5,1868.6L840.3,1873.7L850.7,1878.4L861.5,1882.5L873.2,1886.1L885.2,1889.2L898.1,1891.9L911.6,1894.1L926.1,1895.8" stroke="#ff5500"/><path d="M188.6,1899.8L197.2,1894.4L204.3,1887.8L210.5,1879.4L216.0,1868.7L220.6,1856.5L224.9,1841.6L235.4,1794.4L237.8,1784.7L240.3,1778.1L241.5,1776.3L242.7,1775.7L244.0,1776.2L245.5,1778.1L248.3,1784.7L251.3,1795.7L259.0,1828.4L263.6,1845.8L268.9,1861.6L274.7,1874.9L278.1,1880.8L281.5,1885.8L285.1,1890.4L289.5,1894.7L294.1,1898.5L299.0,1901.9L304.5,1905.0L310.7,1907.9L320.2,1911.3L330.3,1914.0L341.1,1916.0L350.6,1916.8L358.3,1916.5L366.9,1915.4L376.8,1913.4L405.0,1906.6L413.9,1905.2L422.2,1904.6L431.5,1904.9L441.9,1905.9L489.6,1914.3L499.1,1915.5L516.0,1916.8L532.9,1917.4L547.7,1917.0L560.9,1915.6L569.8,1913.4L578.4,1910.0L587.6,1905.2L596.8,1899.2L606.4,1892.0L615.3,1884.2L623.9,1875.5L631.6,1866.5L638.6,1856.9L643.9,1848.8L648.5,1840.6L653.1,1831.1L657.4,1820.9L663.9,1803.3L677.4,1760.9L682.9,1745.9L685.4,1740.8L687.8,1737.1L690.0,1735.1L692.1,1734.4L696.4,1735.1L700.7,1737.2L705.4,1740.9L710.0,1745.8L714.9,1752.2L720.7,1761.0L748.1,1806.3L761.3,1825.2L770.2,1836.1L779.1,1845.6L788.7,1854.3L798.8,1862.1L810.8,1869.8L823.4,1876.4L837.2,1882.2L852.3,1887.2L868.6,1891.5L886.4,1895.0L905.5,1897.7L926.1,1899.7" stroke="#ffaa00"/><path d="M188.6,1900.5L193.5,1897.8L197.8,1894.9L201.8,1891.4L205.2,1887.8L208.3,1883.7L211.4,1878.8L216.9,1866.6L221.5,1852.2L225.5,1835.3L237.2,1770.4L239.3,1763.0L240.6,1760.7L241.5,1760.1L242.7,1760.7L244.0,1762.6L246.4,1769.7L248.9,1780.4L256.3,1819.1L260.6,1838.9L265.5,1856.8L271.0,1871.5L274.4,1878.4L277.8,1883.9L281.5,1888.9L285.5,1893.3L289.8,1897.2L295.0,1900.9L300.5,1904.2L307.0,1907.3L318.0,1911.5L329.7,1914.8L341.7,1916.9L352.5,1917.7L360.5,1917.5L369.1,1916.5L404.4,1909.4L412.7,1908.2L420.4,1907.7L431.2,1907.8L443.5,1909.0L481.6,1915.1L494.5,1916.8L510.8,1918.0L526.1,1918.5L544.0,1918.1L559.6,1916.4L569.2,1914.0L579.0,1909.8L587.9,1904.6L596.5,1898.2L604.5,1890.8L611.9,1882.4L618.4,1873.3L624.2,1863.2L629.4,1852.1L634.3,1839.4L639.3,1823.8L643.9,1806.3L648.2,1787.0L652.8,1763.2L660.5,1716.6L662.9,1697.1L666.3,1663.9L667.2,1657.9L667.8,1656.3L668.8,1657.4L669.7,1661.2L674.9,1695.6L679.2,1713.9L686.3,1734.4L704.4,1780.5L716.1,1806.5L721.6,1817.3L727.2,1826.9L733.0,1836.0L738.9,1844.0L745.3,1851.7L751.8,1858.4L758.2,1864.3L765.0,1869.6L772.4,1874.6L780.0,1879.1L788.3,1883.2L797.0,1886.9L806.5,1890.3L816.6,1893.4L839.4,1898.8L865.5,1902.9L894.7,1905.7L926.1,1907.2" stroke="#ffff00"/><path d="M188.6,1900.0L193.5,1897.4L197.8,1894.4L201.8,1890.9L205.5,1886.8L208.6,1882.4L211.7,1877.1L216.9,1864.6L221.2,1849.8L225.2,1831.1L236.6,1759.5L238.7,1751.8L239.7,1750.2L240.6,1749.8L241.8,1750.8L243.0,1753.3L245.8,1763.8L255.0,1816.9L259.9,1840.9L263.9,1855.8L268.5,1868.9L271.6,1875.6L275.0,1881.7L278.7,1887.0L282.7,1891.7L287.0,1895.7L291.9,1899.3L298.1,1903.0L304.8,1906.4L315.9,1910.8L327.9,1914.4L338.9,1916.7L350.3,1918.0L359.2,1918.1L368.8,1917.4L406.9,1911.3L415.8,1910.4L423.8,1910.1L433.6,1910.5L444.7,1911.5L480.0,1916.4L492.9,1917.9L509.2,1918.8L524.9,1919.0L544.6,1918.1L553.2,1917.0L560.9,1915.5L566.7,1913.7L572.3,1911.3L577.8,1908.3L583.0,1904.7L590.4,1898.3L597.1,1890.6L603.0,1881.9L608.2,1871.8L612.8,1860.3L617.1,1846.7L620.8,1832.0L624.5,1813.8L627.9,1793.1L631.0,1770.3L634.0,1742.8L636.5,1716.0L640.2,1660.0L644.2,1569.4L645.1,1557.2L645.7,1555.6L646.3,1557.9L647.3,1567.0L651.6,1637.4L654.3,1670.6L658.0,1699.0L663.2,1725.5L668.5,1746.3L674.6,1767.8L680.8,1786.8L687.2,1804.3L693.4,1818.8L699.8,1831.7L706.6,1843.1L714.0,1853.4L720.4,1861.0L727.5,1867.9L735.2,1874.2L743.2,1879.7L752.1,1884.7L761.6,1889.1L772.1,1893.0L783.7,1896.6L797.0,1899.8L811.7,1902.7L828.0,1905.2L845.5,1907.3L864.6,1909.1L884.6,1910.3L926.1,1911.5" stroke="#80ff00"/><path d="M188.6,1897.9L193.5,1895.0L198.2,1891.5L202.2,1887.5L205.8,1882.7L209.2,1877.1L212.3,1870.6L215.1,1863.3L217.5,1855.2L221.8,1836.5L225.5,1814.2L236.3,1725.4L238.1,1716.4L239.0,1714.0L240.0,1713.4L240.9,1714.2L242.1,1717.1L244.3,1726.8L256.3,1813.0L260.6,1836.1L265.2,1854.3L267.9,1862.7L271.0,1870.3L274.4,1877.1L277.8,1882.5L281.5,1887.4L285.8,1891.8L290.4,1895.7L296.2,1899.6L302.7,1903.2L310.0,1906.6L325.7,1912.3L339.9,1915.7L348.2,1916.8L355.5,1917.3L363.8,1917.3L372.8,1916.7L407.5,1912.2L423.2,1911.2L442.5,1912.0L488.0,1916.2L499.4,1916.5L514.5,1916.1L527.7,1915.0L539.4,1913.2L549.5,1910.6L558.4,1907.2L564.9,1903.7L570.7,1899.3L576.2,1894.0L581.5,1887.6L586.1,1880.6L590.4,1872.6L594.4,1863.5L598.4,1852.6L604.5,1831.3L610.4,1805.1L618.4,1760.6L627.9,1701.1L628.8,1696.8L629.7,1695.0L630.7,1695.6L631.6,1697.6L636.8,1716.7L641.4,1729.7L666.3,1792.2L672.8,1806.9L678.9,1819.6L688.4,1836.3L698.6,1850.5L704.1,1857.0L709.7,1862.7L715.5,1868.0L721.9,1873.1L729.0,1877.9L736.7,1882.4L745.0,1886.5L753.6,1890.1L762.8,1893.4L772.7,1896.4L795.4,1901.7L823.4,1906.2L855.4,1909.6L890.1,1911.9L926.1,1912.8" stroke="#00ff80"/><path d="M188.6,1896.9L194.2,1893.5L198.8,1889.8L202.8,1885.5L206.5,1880.3L209.8,1874.2L212.9,1867.0L215.7,1858.7L218.1,1849.4L221.8,1831.0L224.9,1810.2L228.3,1780.3L235.7,1702.6L237.5,1690.5L238.4,1687.3L239.3,1686.4L240.3,1687.3L241.5,1691.0L243.7,1703.4L252.6,1783.3L257.2,1816.7L259.6,1830.5L262.4,1843.3L265.2,1853.7L268.2,1863.0L271.9,1871.7L276.2,1879.4L281.2,1886.0L286.7,1891.5L293.4,1896.5L302.4,1901.5L312.8,1906.4L323.6,1910.4L332.2,1912.9L340.5,1914.7L350.6,1916.0L360.5,1916.6L377.4,1916.0L408.7,1912.6L422.9,1911.7L439.8,1911.8L475.4,1913.3L491.1,1913.2L507.1,1911.7L521.8,1909.0L534.1,1905.2L544.6,1900.4L549.8,1897.2L554.4,1893.7L562.7,1885.7L570.1,1875.7L577.2,1862.8L583.3,1848.2L589.5,1829.9L595.0,1810.3L605.1,1770.8L609.1,1757.6L611.6,1751.3L613.7,1747.5L615.9,1745.4L618.4,1744.9L622.0,1745.8L625.7,1748.2L629.7,1752.5L633.7,1758.2L640.8,1770.7L656.2,1802.0L664.5,1817.7L673.4,1832.6L682.3,1845.1L691.5,1855.9L701.7,1865.6L712.4,1873.9L724.1,1881.2L739.8,1888.6L757.3,1894.9L777.0,1900.0L800.3,1904.5L828.3,1908.3L859.7,1911.3L892.6,1913.3L926.1,1914.2" stroke="#00ffff"/><path d="M188.6,1895.6L194.2,1892.2L198.8,1888.5L202.8,1884.2L206.5,1879.1L209.8,1872.9L212.9,1865.7L215.7,1857.4L218.1,1848.1L221.8,1829.7L224.9,1808.9L228.3,1779.1L235.7,1701.5L237.5,1689.5L238.4,1686.3L239.3,1685.3L240.3,1686.3L241.5,1690.0L243.7,1702.3L252.6,1781.9L257.5,1817.1L259.9,1830.6L262.7,1843.0L265.5,1853.1L268.5,1862.1L272.2,1870.6L276.5,1878.1L281.5,1884.6L287.0,1889.9L294.4,1895.2L303.6,1900.4L314.4,1905.4L325.4,1909.6L334.9,1912.4L344.2,1914.1L354.9,1915.4L366.3,1915.9L382.9,1915.4L422.6,1912.2L473.9,1911.4L488.3,1910.2L500.9,1908.1L513.8,1904.5L525.2,1900.0L535.4,1894.2L544.3,1887.2L552.3,1878.8L559.6,1868.7L566.1,1857.5L572.6,1843.8L578.4,1829.2L590.1,1797.5L595.0,1786.2L597.8,1781.3L600.5,1777.8L603.0,1776.1L606.1,1775.6L610.1,1776.4L614.1,1778.4L618.4,1781.9L623.0,1786.8L631.3,1798.0L648.5,1824.4L656.5,1835.9L665.7,1847.6L675.2,1857.9L685.1,1866.7L695.5,1874.5L706.9,1881.4L719.2,1887.4L735.8,1893.8L754.2,1899.1L774.2,1903.4L798.8,1907.4L828.0,1910.8L860.0,1913.5L893.2,1915.3L926.1,1916.1" stroke="#00aaff"/><path d="M188.6,1892.2L193.5,1889.0L197.8,1885.4L201.8,1881.2L205.5,1876.1L208.6,1870.9L211.7,1864.4L216.9,1849.2L221.2,1831.4L225.2,1808.7L236.6,1722.2L238.7,1712.7L239.7,1710.8L240.6,1710.3L241.8,1711.4L243.0,1714.4L245.5,1725.2L255.6,1794.6L261.2,1825.2L266.7,1846.9L269.8,1856.0L273.2,1864.1L277.2,1871.6L281.8,1878.4L287.0,1884.2L292.8,1889.1L301.7,1895.2L312.2,1901.0L323.0,1906.0L333.1,1909.7L345.1,1912.4L359.5,1914.4L374.3,1915.2L389.4,1914.9L421.6,1912.9L459.1,1911.3L475.1,1909.9L485.6,1908.4L494.8,1906.5L503.7,1903.9L512.3,1900.6L522.5,1895.6L531.4,1889.7L539.7,1882.6L547.4,1874.2L554.7,1864.3L561.8,1852.7L567.9,1841.0L580.5,1815.1L586.4,1804.9L589.5,1800.7L592.5,1797.8L595.3,1796.3L598.7,1795.9L603.0,1796.6L607.6,1798.5L612.2,1801.5L617.1,1805.8L626.0,1815.4L645.1,1838.6L653.4,1848.1L662.9,1857.8L672.8,1866.4L682.9,1873.8L693.7,1880.4L705.4,1886.3L718.3,1891.6L735.2,1897.2L754.2,1902.0L774.5,1905.8L799.7,1909.4L829.5,1912.7L861.5,1915.2L894.1,1916.9L926.1,1917.7" stroke="#0000ff"/><path d="M188.6,1886.9L192.9,1883.7L196.9,1880.0L203.7,1871.6L209.8,1860.5L215.1,1847.2L219.4,1832.5L223.7,1813.6L236.6,1740.9L239.3,1731.6L240.6,1729.5L241.8,1729.0L243.3,1730.1L244.9,1733.1L248.0,1743.5L259.3,1802.1L265.5,1828.5L271.3,1847.0L274.7,1855.3L278.1,1862.2L282.7,1869.8L287.6,1876.2L293.8,1882.4L301.1,1888.5L310.4,1894.9L320.2,1900.6L329.7,1905.0L338.6,1908.1L354.0,1911.4L370.0,1913.5L385.1,1914.3L402.9,1913.9L441.0,1911.7L463.4,1909.6L481.9,1906.3L489.9,1904.1L497.6,1901.5L507.4,1897.1L516.6,1891.9L524.9,1885.9L532.9,1878.8L540.6,1870.5L548.0,1861.0L555.0,1850.6L568.9,1828.6L575.0,1820.2L578.7,1816.3L582.1,1813.7L585.2,1812.4L588.5,1812.1L593.2,1812.6L597.8,1814.2L602.7,1816.8L607.9,1820.5L616.8,1828.4L636.8,1848.6L646.6,1857.9L656.8,1866.4L666.9,1873.8L677.4,1880.1L688.1,1885.7L700.4,1890.9L713.6,1895.5L731.5,1900.6L751.2,1904.9L771.1,1908.2L797.3,1911.6L828.6,1914.7L861.5,1917.1L894.4,1918.7L926.1,1919.5" stroke="#7f00ff"/><path d="M188.6,1881.8L196.0,1875.1L202.5,1867.0L208.0,1857.6L213.2,1845.9L217.8,1832.5L222.1,1817.0L233.5,1765.6L236.6,1753.3L240.0,1744.1L241.5,1742.0L243.0,1741.5L244.6,1742.3L246.4,1744.8L250.1,1754.5L253.5,1767.2L263.6,1809.4L270.4,1832.4L276.5,1848.1L279.9,1855.1L283.6,1861.5L288.8,1868.9L295.6,1876.5L303.3,1883.7L311.9,1890.6L320.8,1896.5L329.4,1901.2L337.4,1904.6L346.3,1907.2L362.3,1910.8L378.0,1913.1L391.5,1913.9L410.3,1913.8L433.9,1912.4L455.7,1910.0L472.3,1907.0L487.1,1902.8L496.6,1899.1L505.5,1894.7L513.8,1889.7L521.8,1883.8L529.8,1876.8L537.8,1868.6L545.2,1860.0L560.3,1841.2L567.0,1833.9L571.0,1830.5L574.7,1828.2L578.4,1826.9L582.1,1826.6L586.7,1827.2L591.6,1828.6L596.5,1830.8L602.1,1834.0L611.3,1840.9L631.6,1858.0L641.4,1865.8L652.2,1873.5L662.9,1880.0L673.7,1885.6L685.1,1890.5L697.7,1895.1L711.5,1899.2L729.9,1903.7L749.9,1907.6L769.9,1910.6L796.3,1913.6L828.9,1916.5L862.4,1918.9L895.0,1920.4L926.1,1921.2" stroke="#ff00cc"/></g>
<g clip-path="url(#clipe)" fill="none" stroke-width="5" stroke-linejoin="round"><path d="M1112.2,1889.1L1119.6,1883.5L1126.1,1876.8L1131.9,1868.7L1137.1,1859.3L1141.7,1848.6L1146.3,1835.4L1157.7,1795.1L1160.8,1785.4L1164.2,1778.0L1165.7,1776.1L1167.2,1775.4L1169.1,1776.0L1170.9,1777.9L1172.8,1781.1L1174.9,1786.1L1178.6,1797.3L1189.7,1834.8L1193.7,1846.4L1197.3,1855.7L1201.0,1863.7L1204.7,1870.4L1208.7,1876.6L1212.7,1881.8L1218.8,1888.3L1225.6,1893.7L1234.5,1899.4L1243.7,1904.0L1252.9,1907.6L1262.2,1910.1L1270.5,1911.4L1281.8,1912.1L1300.6,1912.2L1345.7,1910.2L1426.8,1910.4L1442.5,1912.1L1477.8,1918.7L1485.8,1919.6L1493.2,1919.9L1544.8,1919.3L1585.7,1918.1L1610.2,1916.6L1629.0,1913.8L1652.6,1908.1L1682.7,1898.8L1695.6,1893.9L1709.8,1887.2L1721.7,1880.7L1735.6,1872.6L1760.8,1856.9L1768.7,1851.5L1784.4,1839.1L1812.7,1813.9L1823.1,1806.2L1829.9,1802.6L1836.0,1800.7L1841.9,1800.2L1849.2,1800.8" stroke="#ff0000"/><path d="M1112.2,1893.1L1121.2,1887.5L1128.5,1881.0L1135.0,1872.8L1140.5,1863.1L1145.4,1851.5L1150.0,1837.5L1161.4,1792.8L1164.2,1783.3L1166.9,1776.7L1168.5,1774.8L1169.7,1774.3L1171.2,1774.9L1173.1,1777.2L1176.8,1786.0L1190.0,1835.2L1197.0,1856.8L1200.4,1864.9L1203.8,1871.9L1207.5,1878.3L1211.2,1883.6L1216.4,1889.6L1221.9,1894.4L1229.6,1899.4L1238.8,1904.3L1247.7,1908.0L1256.9,1910.8L1265.8,1912.6L1274.8,1913.4L1294.4,1913.3L1331.0,1910.1L1347.3,1909.3L1425.3,1911.0L1441.0,1912.5L1476.3,1918.9L1484.6,1919.7L1492.6,1920.0L1526.4,1919.4L1572.1,1917.5L1601.6,1915.3L1618.2,1913.1L1631.1,1910.2L1644.3,1906.5L1657.8,1901.7L1671.1,1896.3L1683.0,1890.6L1691.3,1885.8L1700.2,1879.7L1709.1,1872.5L1716.2,1865.9L1723.0,1858.8L1729.4,1851.3L1735.9,1843.0L1742.6,1833.3L1749.7,1822.2L1770.9,1785.6L1777.0,1775.8L1784.1,1766.7L1787.5,1763.7L1790.6,1761.8L1794.9,1760.8L1801.0,1761.6L1806.8,1764.1L1813.3,1768.5L1819.1,1773.7L1825.9,1780.8L1849.2,1808.6" stroke="#ff5500"/><path d="M1112.2,1898.7L1119.3,1896.2L1125.5,1893.4L1130.7,1890.3L1135.3,1886.7L1139.6,1882.4L1143.3,1877.6L1146.7,1872.0L1149.7,1865.6L1154.6,1852.1L1159.2,1834.8L1163.2,1815.7L1173.4,1761.1L1174.9,1754.7L1175.8,1753.5L1177.1,1755.3L1178.9,1762.4L1190.0,1818.9L1194.9,1841.0L1200.1,1859.4L1205.9,1874.5L1209.3,1881.2L1213.0,1887.1L1216.7,1891.7L1221.0,1895.9L1226.2,1899.7L1232.4,1903.3L1240.4,1907.2L1248.3,1910.3L1256.3,1912.7L1264.0,1914.3L1271.1,1915.0L1279.7,1915.2L1295.3,1914.2L1323.3,1910.5L1337.1,1909.0L1348.8,1908.4L1360.5,1908.6L1396.1,1910.7L1430.5,1912.0L1442.5,1913.5L1473.5,1919.0L1482.7,1919.9L1492.0,1920.2L1528.2,1919.0L1576.7,1915.5L1592.1,1913.8L1605.6,1911.8L1614.5,1910.0L1623.4,1907.5L1634.5,1903.5L1644.9,1898.8L1654.8,1893.3L1664.0,1886.9L1672.3,1880.0L1680.0,1872.2L1686.7,1864.0L1692.9,1854.9L1698.1,1845.6L1703.3,1834.9L1708.2,1823.2L1713.1,1809.8L1720.2,1787.5L1735.3,1733.0L1741.1,1714.8L1743.9,1708.2L1746.3,1703.9L1748.8,1701.1L1751.2,1700.2L1755.2,1701.0L1759.2,1703.7L1763.5,1708.7L1768.4,1716.4L1776.4,1732.2L1792.7,1768.9L1800.7,1785.9L1809.0,1801.8L1817.0,1815.1L1824.7,1826.2L1832.3,1835.7L1840.6,1844.5L1849.2,1852.1" stroke="#ffaa00"/><path d="M1112.2,1901.1L1124.2,1898.4L1132.5,1895.8L1139.3,1892.7L1144.8,1888.8L1149.7,1883.8L1154.0,1877.4L1157.7,1869.7L1161.1,1860.1L1164.2,1848.4L1167.2,1833.0L1170.0,1815.2L1172.5,1795.6L1176.8,1751.9L1181.7,1678.7L1182.3,1672.1L1182.9,1669.9L1183.5,1671.6L1184.4,1679.3L1189.4,1743.5L1194.0,1788.9L1198.9,1825.0L1201.6,1840.5L1204.4,1853.2L1207.5,1864.6L1210.6,1873.6L1213.9,1881.5L1217.9,1888.4L1221.9,1893.5L1226.8,1898.0L1232.7,1902.0L1240.4,1906.3L1248.3,1909.8L1256.6,1912.4L1264.9,1914.1L1272.9,1914.7L1280.9,1914.7L1289.8,1913.9L1330.7,1907.0L1342.3,1905.7L1352.2,1905.2L1365.7,1905.7L1397.6,1908.2L1429.9,1909.3L1440.3,1910.4L1471.7,1914.9L1481.2,1915.5L1491.6,1915.3L1513.2,1913.4L1529.4,1911.4L1553.7,1907.3L1569.7,1903.9L1583.8,1900.0L1596.4,1895.5L1607.5,1890.4L1617.3,1884.6L1628.7,1875.8L1639.1,1865.4L1648.6,1853.4L1657.5,1839.5L1665.8,1823.7L1673.5,1805.8L1680.6,1785.8L1686.7,1764.5L1691.0,1746.2L1694.7,1727.2L1698.1,1705.9L1701.2,1681.9L1703.9,1655.0L1706.4,1626.0L1714.1,1517.7L1715.9,1501.4L1716.8,1497.3L1717.4,1496.4L1718.1,1497.2L1718.7,1500.2L1719.9,1512.0L1727.0,1628.3L1729.4,1659.3L1731.9,1683.1L1735.0,1705.6L1738.6,1725.6L1742.9,1743.2L1748.2,1760.1L1757.1,1783.1L1762.3,1794.6L1767.5,1804.9L1773.0,1814.7L1778.6,1823.5L1784.4,1831.7L1790.3,1839.0L1796.4,1845.9L1802.8,1852.2L1809.6,1857.9L1816.7,1863.1L1824.0,1867.9L1832.0,1872.2L1840.3,1876.1L1849.2,1879.6" stroke="#ffff00"/><path d="M1112.2,1899.9L1126.1,1896.1L1135.3,1892.2L1139.3,1889.8L1142.7,1887.1L1145.7,1884.1L1148.8,1880.2L1154.0,1871.0L1158.3,1859.4L1162.3,1843.8L1165.7,1824.9L1169.1,1798.3L1171.8,1768.2L1174.3,1732.0L1176.1,1695.2L1178.6,1620.1L1181.7,1461.5L1182.3,1437.8L1182.9,1429.5L1183.5,1435.4L1184.1,1451.1L1187.8,1604.4L1190.3,1676.2L1194.0,1743.8L1196.1,1771.5L1198.6,1796.6L1201.3,1819.0L1204.7,1839.9L1208.4,1857.0L1212.4,1870.7L1216.7,1881.2L1221.3,1889.1L1227.1,1895.8L1234.8,1901.9L1243.4,1907.2L1252.6,1911.3L1262.2,1914.1L1271.7,1915.5L1280.0,1915.7L1289.2,1915.0L1330.4,1907.3L1342.3,1905.9L1352.5,1905.6L1366.3,1906.6L1397.9,1910.6L1430.5,1912.9L1469.2,1919.3L1478.1,1920.2L1486.7,1920.5L1522.4,1918.7L1562.3,1914.3L1574.9,1912.2L1586.0,1909.9L1596.1,1907.1L1605.0,1903.9L1612.4,1900.4L1619.4,1896.2L1625.9,1891.4L1632.0,1885.6L1637.6,1879.3L1642.8,1872.0L1647.4,1864.4L1652.0,1855.3L1659.1,1838.0L1665.8,1817.1L1671.4,1796.8L1690.4,1721.6L1691.6,1717.6L1692.9,1715.8L1693.8,1716.2L1695.0,1718.0L1700.9,1731.4L1712.8,1753.9L1731.3,1792.6L1740.8,1811.0L1746.9,1821.5L1753.1,1831.0L1759.8,1840.3L1766.3,1848.2L1774.3,1856.5L1782.9,1863.9L1791.8,1870.3L1801.6,1876.1L1812.1,1881.1L1823.4,1885.5L1835.7,1889.3L1849.2,1892.5" stroke="#80ff00"/><path d="M1112.2,1900.4L1126.1,1897.3L1134.1,1894.9L1140.8,1891.7L1146.3,1887.6L1151.3,1882.1L1155.6,1874.9L1159.2,1866.1L1162.6,1854.9L1165.7,1841.1L1168.8,1822.7L1171.5,1801.3L1174.3,1773.9L1177.7,1728.6L1181.7,1642.3L1182.3,1632.5L1182.9,1629.1L1183.5,1631.7L1184.1,1638.4L1188.7,1722.4L1192.7,1773.4L1195.2,1797.0L1198.0,1819.0L1201.0,1838.6L1204.1,1854.1L1207.5,1867.4L1210.9,1877.7L1214.5,1886.2L1218.5,1892.9L1222.8,1897.8L1228.1,1902.0L1237.9,1907.6L1245.6,1911.1L1254.2,1914.1L1262.8,1916.1L1270.8,1917.0L1279.1,1917.0L1285.8,1916.3L1293.5,1914.9L1319.9,1908.3L1331.6,1905.9L1343.6,1904.3L1353.7,1903.9L1366.9,1905.1L1397.9,1909.9L1432.7,1912.7L1468.3,1918.3L1476.9,1919.0L1484.9,1919.1L1508.5,1917.5L1529.4,1915.1L1557.4,1910.0L1575.5,1905.3L1583.5,1902.4L1590.6,1899.4L1597.3,1895.9L1603.5,1892.1L1609.0,1888.0L1614.2,1883.4L1619.1,1878.3L1624.1,1872.3L1632.7,1859.4L1640.6,1844.2L1647.7,1828.0L1660.9,1794.5L1666.1,1783.2L1668.9,1778.6L1671.7,1775.2L1674.1,1773.4L1676.9,1772.7L1680.6,1773.2L1684.3,1774.9L1688.3,1777.7L1692.3,1781.5L1699.9,1791.0L1721.4,1822.3L1733.7,1838.2L1740.8,1846.1L1748.2,1853.5L1756.2,1860.6L1764.4,1867.1L1772.7,1872.7L1781.6,1877.8L1791.2,1882.3L1801.3,1886.4L1812.1,1890.0L1823.7,1893.2L1836.0,1895.9L1849.2,1898.2" stroke="#00ff80"/><path d="M1112.2,1900.2L1134.1,1895.7L1140.2,1893.4L1145.4,1890.5L1150.3,1886.3L1154.3,1881.3L1158.0,1874.8L1161.4,1866.6L1164.5,1856.5L1167.2,1844.5L1170.0,1829.3L1172.5,1812.4L1178.0,1762.4L1182.9,1701.3L1183.5,1696.3L1184.1,1695.0L1184.7,1696.7L1185.7,1703.2L1191.5,1767.0L1197.0,1814.0L1199.8,1832.5L1202.6,1847.9L1205.3,1860.5L1208.4,1871.8L1211.5,1880.8L1214.9,1888.5L1218.2,1894.1L1222.2,1898.8L1226.8,1902.5L1232.7,1905.9L1242.5,1910.7L1251.7,1914.1L1259.4,1916.2L1266.8,1917.3L1274.1,1917.7L1281.2,1917.2L1294.1,1914.7L1318.1,1907.6L1328.2,1905.1L1340.2,1902.9L1350.3,1902.0L1357.4,1902.3L1365.4,1903.2L1398.6,1909.1L1430.2,1911.9L1461.8,1916.7L1476.0,1917.9L1491.6,1917.3L1516.5,1914.4L1531.6,1911.6L1549.4,1907.3L1565.7,1902.3L1579.5,1896.3L1591.5,1889.3L1602.5,1880.5L1611.8,1871.1L1621.0,1859.1L1629.0,1846.7L1643.7,1821.7L1649.9,1812.7L1653.2,1808.8L1656.6,1806.0L1659.7,1804.5L1662.8,1804.0L1666.8,1804.3L1670.7,1805.5L1675.0,1807.7L1679.3,1810.6L1688.9,1819.2L1713.1,1844.4L1724.8,1855.1L1732.8,1861.4L1740.8,1867.1L1749.4,1872.5L1759.2,1878.0L1768.4,1882.5L1778.3,1886.7L1788.4,1890.4L1799.5,1893.7L1811.1,1896.7L1823.4,1899.3L1849.2,1903.0" stroke="#00ffff"/><path d="M1112.2,1899.6L1133.7,1895.4L1139.6,1893.5L1144.5,1891.1L1149.4,1887.4L1153.4,1883.0L1157.1,1877.3L1160.2,1870.7L1162.9,1862.9L1165.7,1852.8L1170.3,1829.4L1175.2,1793.6L1182.3,1730.3L1183.2,1724.1L1184.1,1722.1L1185.1,1724.4L1186.3,1731.6L1194.6,1800.1L1199.5,1834.0L1204.7,1860.6L1207.5,1871.2L1210.2,1879.9L1213.0,1886.9L1216.1,1892.8L1219.5,1897.6L1223.1,1901.3L1228.7,1905.0L1239.1,1910.0L1246.2,1913.0L1253.6,1915.3L1261.2,1917.1L1268.3,1918.0L1275.1,1918.1L1281.8,1917.4L1294.1,1914.6L1317.8,1906.6L1327.6,1903.8L1340.2,1901.1L1350.9,1900.2L1358.0,1900.5L1365.7,1901.5L1390.6,1906.9L1399.2,1908.4L1430.5,1911.5L1457.5,1915.5L1469.2,1916.7L1479.1,1916.8L1490.7,1915.8L1508.2,1913.4L1522.7,1910.8L1539.6,1906.2L1558.0,1899.9L1570.6,1894.3L1582.3,1887.6L1593.0,1879.6L1603.5,1870.0L1612.4,1860.4L1629.3,1840.4L1636.3,1833.1L1640.3,1829.9L1644.0,1827.8L1647.7,1826.5L1651.4,1826.0L1655.7,1826.3L1660.3,1827.4L1664.9,1829.1L1669.8,1831.6L1679.7,1838.3L1704.8,1857.9L1717.4,1866.6L1734.6,1876.4L1754.3,1885.3L1775.2,1892.9L1797.9,1899.1L1822.8,1903.8L1849.2,1907.0" stroke="#00aaff"/><path d="M1112.2,1898.1L1133.7,1893.5L1139.6,1891.6L1144.2,1889.3L1148.8,1886.0L1152.8,1881.8L1156.5,1876.4L1159.6,1870.4L1162.3,1863.3L1165.1,1854.4L1170.0,1832.3L1174.3,1805.5L1182.9,1742.6L1184.1,1735.8L1185.1,1733.6L1185.7,1734.0L1186.3,1735.5L1188.1,1744.5L1198.0,1813.3L1202.9,1842.6L1207.8,1864.6L1210.6,1874.2L1213.3,1882.0L1216.1,1888.1L1219.2,1893.3L1222.5,1897.4L1226.2,1900.7L1231.1,1903.9L1242.5,1910.0L1249.9,1913.1L1257.2,1915.5L1264.0,1917.0L1270.5,1917.7L1276.9,1917.6L1283.1,1916.8L1294.7,1913.7L1317.5,1905.3L1327.3,1902.2L1340.2,1899.3L1350.9,1898.2L1358.0,1898.6L1365.7,1899.8L1390.6,1906.0L1399.5,1907.8L1430.5,1911.4L1464.3,1916.0L1473.2,1916.5L1481.5,1916.1L1495.3,1914.4L1512.2,1911.6L1525.7,1908.5L1540.5,1903.9L1557.1,1897.6L1569.7,1891.6L1580.1,1885.4L1590.6,1877.9L1600.1,1869.9L1618.2,1853.6L1625.9,1847.6L1630.2,1844.9L1634.5,1843.0L1638.5,1841.9L1642.5,1841.6L1647.1,1841.9L1651.7,1842.8L1656.6,1844.3L1661.5,1846.4L1670.7,1851.4L1695.6,1867.3L1710.1,1875.5L1727.9,1883.9L1747.9,1891.4L1771.5,1898.5L1796.1,1904.1L1822.5,1908.3L1849.2,1911.0" stroke="#0000ff"/><path d="M1112.2,1897.2L1134.1,1892.5L1139.3,1890.7L1143.9,1888.5L1148.2,1885.5L1152.2,1881.4L1155.9,1876.2L1158.9,1870.3L1161.7,1863.5L1164.2,1855.8L1168.8,1836.2L1173.1,1810.7L1181.4,1751.3L1183.5,1740.2L1184.4,1737.4L1185.1,1736.7L1186.0,1737.6L1186.9,1740.0L1189.4,1751.7L1199.2,1819.1L1203.8,1845.9L1208.7,1867.4L1213.9,1883.4L1216.7,1889.4L1219.5,1893.9L1222.5,1897.7L1226.2,1901.0L1230.8,1903.9L1242.8,1910.4L1250.2,1913.5L1257.6,1915.8L1264.3,1917.3L1270.8,1918.0L1276.9,1917.9L1283.1,1917.0L1294.4,1913.7L1317.2,1904.4L1327.0,1901.0L1340.2,1897.7L1351.3,1896.5L1358.0,1897.0L1365.7,1898.3L1390.6,1905.3L1399.5,1907.4L1458.2,1915.5L1468.0,1916.2L1476.9,1916.2L1486.1,1915.2L1499.0,1913.3L1516.2,1910.0L1527.3,1907.1L1542.0,1902.1L1559.2,1895.2L1570.3,1889.8L1581.4,1883.3L1591.2,1876.7L1610.8,1862.5L1619.1,1857.3L1624.1,1854.9L1628.7,1853.2L1633.0,1852.3L1637.3,1852.0L1642.2,1852.2L1647.1,1853.0L1657.8,1856.4L1667.7,1860.9L1693.8,1874.9L1708.5,1882.0L1727.9,1889.7L1749.1,1896.6L1773.0,1902.9L1797.9,1907.9L1823.7,1911.7L1849.2,1913.9" stroke="#7f00ff"/><path d="M1112.2,1895.1L1133.1,1889.8L1138.4,1887.8L1143.0,1885.4L1147.3,1882.2L1151.3,1878.1L1154.9,1872.8L1158.0,1866.9L1162.9,1853.8L1167.5,1835.7L1172.2,1810.5L1181.1,1751.2L1183.5,1740.9L1184.7,1738.3L1185.7,1737.7L1186.9,1738.6L1188.4,1742.0L1191.2,1753.5L1201.6,1821.0L1206.6,1847.8L1211.2,1866.9L1215.8,1880.5L1218.5,1886.4L1221.3,1890.9L1224.7,1895.0L1228.7,1898.6L1238.8,1905.5L1245.0,1909.1L1252.6,1912.7L1260.3,1915.2L1266.8,1916.6L1272.6,1917.2L1278.1,1917.0L1284.0,1916.0L1295.0,1912.5L1317.2,1902.8L1327.0,1899.2L1340.2,1895.7L1346.0,1894.8L1351.3,1894.5L1357.4,1895.0L1364.2,1896.2L1394.9,1905.7L1413.9,1909.1L1452.3,1914.7L1462.8,1915.8L1475.1,1916.0L1487.3,1914.6L1503.6,1911.8L1518.1,1908.7L1528.8,1905.5L1541.1,1901.1L1557.7,1894.3L1570.3,1888.2L1582.0,1881.7L1604.1,1868.0L1613.0,1863.2L1617.9,1861.2L1622.8,1859.7L1627.4,1858.8L1632.0,1858.6L1641.9,1859.6L1652.6,1862.7L1662.5,1866.9L1689.8,1880.3L1705.2,1887.1L1725.1,1894.4L1746.3,1900.7L1771.2,1906.7L1797.6,1911.6L1824.0,1915.1L1849.2,1917.1" stroke="#ff00cc"/></g>
<g fill="#000"><rect x="194.5" y="42" width="1651.5" height="7"/><rect x="194.5" y="671" width="1651.5" height="7"/><rect x="194.5" y="42" width="8" height="636"/><rect x="1838" y="42" width="8" height="636"/><rect x="202" y="635.9" width="32.5" height="6.2"/><rect x="202" y="488.6" width="32.5" height="6.2"/><rect x="202" y="341.3" width="32.5" height="6.2"/><rect x="202" y="194" width="32.5" height="6.2"/><rect x="202" y="46.7" width="32.5" height="6.2"/><rect x="252.55" y="645" width="8.3" height="26.5"/><rect x="779.55" y="645" width="8.3" height="26.5"/><rect x="1306.55" y="645" width="8.3" height="26.5"/><rect x="1830.2" y="645" width="8.3" height="26.5"/></g>
<g fill="#000"><rect x="193.3" y="897.3" width="742" height="4.6"/><rect x="193.3" y="1343.2" width="742" height="4.6"/><rect x="193.3" y="897.3" width="5.2" height="450.5"/><rect x="930.1" y="897.3" width="5.2" height="450.5"/><rect x="198" y="1318.7" width="13" height="5"/><rect x="198" y="1214.1" width="13" height="5"/><rect x="198" y="1109.5" width="13" height="5"/><rect x="198" y="1004.9" width="13" height="5"/><rect x="198" y="900.3" width="13" height="5"/><rect x="218.85" y="1325.2" width="5.5" height="18.5"/><rect x="455.31" y="1325.2" width="5.5" height="18.5"/><rect x="691.77" y="1325.2" width="5.5" height="18.5"/><rect x="925.1" y="1325.2" width="5.5" height="18.5"/></g>
<g fill="#000"><rect x="1110" y="899.8" width="743.1" height="4.6"/><rect x="1110" y="1343.6" width="743.1" height="4.6"/><rect x="1110" y="899.8" width="5.3" height="448.4"/><rect x="1847.8" y="899.8" width="5.3" height="448.4"/><rect x="1114.8" y="1319.5" width="13.5" height="5"/><rect x="1114.8" y="1215" width="13.5" height="5"/><rect x="1114.8" y="1110.5" width="13.5" height="5"/><rect x="1114.8" y="1006" width="13.5" height="5"/><rect x="1114.8" y="901.5" width="13.5" height="5"/><rect x="1136.65" y="1326.6" width="5.5" height="17.5"/><rect x="1372.45" y="1326.6" width="5.5" height="17.5"/><rect x="1608.25" y="1326.6" width="5.5" height="17.5"/><rect x="1842.8" y="1326.6" width="5.5" height="17.5"/></g>
<g fill="#000"><rect x="187.6" y="1490" width="743.1" height="4.8"/><rect x="187.6" y="1932.8" width="743.1" height="4.8"/><rect x="187.6" y="1490" width="6" height="447.6"/><rect x="924.7" y="1490" width="6" height="447.6"/><rect x="193.1" y="1908.3" width="13.5" height="5"/><rect x="193.1" y="1804.4" width="13.5" height="5"/><rect x="193.1" y="1700.5" width="13.5" height="5"/><rect x="193.1" y="1596.6" width="13.5" height="5"/><rect x="193.1" y="1492.7" width="13.5" height="5"/><rect x="214.15" y="1915.8" width="5.5" height="17.5"/><rect x="449.75" y="1915.8" width="5.5" height="17.5"/><rect x="685.35" y="1915.8" width="5.5" height="17.5"/><rect x="919.7" y="1915.8" width="5.5" height="17.5"/></g>
<g fill="#000"><rect x="1110.5" y="1486.8" width="741.9" height="5"/><rect x="1110.5" y="1932.4" width="741.9" height="5"/><rect x="1110.5" y="1486.8" width="6" height="450.6"/><rect x="1846.4" y="1486.8" width="6" height="450.6"/><rect x="1116" y="1907.7" width="13.5" height="5"/><rect x="1116" y="1803.2" width="13.5" height="5"/><rect x="1116" y="1698.7" width="13.5" height="5"/><rect x="1116" y="1594.2" width="13.5" height="5"/><rect x="1116" y="1489.7" width="13.5" height="5"/><rect x="1137.75" y="1915.4" width="5.5" height="17.5"/><rect x="1373.21" y="1915.4" width="5.5" height="17.5"/><rect x="1608.67" y="1915.4" width="5.5" height="17.5"/><rect x="1841.4" y="1915.4" width="5.5" height="17.5"/></g>
<g transform="translate(401.6,73.9)"><defs>
<radialGradient id="gR">
 <stop offset="0" stop-color="#ff0000"/><stop offset="0.72" stop-color="#ff0000"/>
 <stop offset="0.8" stop-color="#ff8a00"/><stop offset="0.88" stop-color="#ffff00"/>
 <stop offset="1" stop-color="#b0ff00" stop-opacity="0"/>
</radialGradient>
<radialGradient id="gB">
 <stop offset="0" stop-color="#0000ff"/><stop offset="0.72" stop-color="#0000ff"/>
 <stop offset="0.8" stop-color="#0090ff"/><stop offset="0.88" stop-color="#00ffff"/>
 <stop offset="1" stop-color="#00ffb0" stop-opacity="0"/>
</radialGradient>
<radialGradient id="gR2">
 <stop offset="0" stop-color="#ff0000"/><stop offset="0.72" stop-color="#ff0000"/>
 <stop offset="0.83" stop-color="#ff9000"/><stop offset="0.92" stop-color="#ffff00"/>
 <stop offset="1" stop-color="#a0ff00" stop-opacity="0"/>
</radialGradient>
<radialGradient id="gB2">
 <stop offset="0" stop-color="#0000ff"/><stop offset="0.72" stop-color="#0000ff"/>
 <stop offset="0.83" stop-color="#0090ff"/><stop offset="0.92" stop-color="#00ffff"/>
 <stop offset="1" stop-color="#00ffa0" stop-opacity="0"/>
</radialGradient>
<radialGradient id="gR3">
 <stop offset="0" stop-color="#ff0000"/><stop offset="0.5" stop-color="#ff0000"/>
 <stop offset="0.68" stop-color="#ff8a00"/><stop offset="0.84" stop-color="#ffff00"/>
 <stop offset="1" stop-color="#b0ff00" stop-opacity="0"/>
</radialGradient>
<radialGradient id="gB3">
 <stop offset="0" stop-color="#0000ff"/><stop offset="0.5" stop-color="#0000ff"/>
 <stop offset="0.68" stop-color="#0090ff"/><stop offset="0.84" stop-color="#00ffff"/>
 <stop offset="1" stop-color="#00ffb0" stop-opacity="0"/>
</radialGradient>
<radialGradient id="gY" cx="0.5" cy="0.5" r="0.5">
 <stop offset="0" stop-color="#ffc000"/><stop offset="0.6" stop-color="#ffff00"/>
 <stop offset="1" stop-color="#c0ff00" stop-opacity="0"/>
</radialGradient>
<radialGradient id="gC" cx="0.5" cy="0.5" r="0.5">
 <stop offset="0" stop-color="#00a0ff"/><stop offset="0.6" stop-color="#00ffff"/>
 <stop offset="1" stop-color="#00ffc0" stop-opacity="0"/>
</radialGradient>
<linearGradient id="gBg1" x1="0" x2="1" y1="0" y2="0">
 <stop offset="0" stop-color="#60ff00"/><stop offset="0.35" stop-color="#20ff00"/>
 <stop offset="0.5" stop-color="#00ff10"/><stop offset="0.65" stop-color="#00ff30"/>
 <stop offset="1" stop-color="#00ff70"/>
</linearGradient>
<linearGradient id="gBg2" x1="0" x2="1" y1="0" y2="0">
 <stop offset="0" stop-color="#50ff00"/><stop offset="0.3" stop-color="#90ff00"/>
 <stop offset="0.48" stop-color="#10ff00"/><stop offset="0.52" stop-color="#00ff20"/>
 <stop offset="0.7" stop-color="#00ff90"/><stop offset="1" stop-color="#00ff40"/>
</linearGradient>
<linearGradient id="gLayB" x1="0" x2="1" y1="0" y2="0">
 <stop offset="0" stop-color="#00ff80"/><stop offset="0.06" stop-color="#00ffff"/>
 <stop offset="0.13" stop-color="#0000ff"/><stop offset="1" stop-color="#0000ff"/>
</linearGradient>
<linearGradient id="gLayR" x1="0" x2="1" y1="0" y2="0">
 <stop offset="0" stop-color="#ff0000"/><stop offset="0.87" stop-color="#ff0000"/>
 <stop offset="0.94" stop-color="#ffff00"/><stop offset="1" stop-color="#80ff00"/>
</linearGradient>
<clipPath id="i1all"><rect x="0" y="0" width="297.5" height="217"/></clipPath><clipPath id="i1up"><rect x="0" y="0" width="297.5" height="147.6"/></clipPath><clipPath id="i1lay"><rect x="0" y="147.6" width="297.5" height="27.4"/></clipPath><clipPath id="i1dn"><rect x="0" y="175" width="297.5" height="42"/></clipPath><clipPath id="i1L"><path d="M0,0 L84,0 L84,147.6 L97,147.6 L97,175 L0,175 Z"/></clipPath><clipPath id="i1R"><path d="M214,0 L300,0 L300,175 L201,175 L201,147.6 L214,147.6 Z"/></clipPath></defs><g clip-path="url(#i1all)"><rect x="0" y="0" width="297.5" height="217" fill="url(#gBg1)"/><ellipse cx="40" cy="185" rx="80" ry="60" fill="#b8ff00" opacity="0.35" filter="url(#blur12)"/><ellipse cx="258" cy="185" rx="80" ry="60" fill="#00ffb0" opacity="0.35" filter="url(#blur12)"/><ellipse cx="150" cy="125" rx="30" ry="18" fill="#00ff40" opacity="0.5" filter="url(#blur12)"/><ellipse cx="97" cy="175" rx="92" ry="82" fill="url(#gB)" clip-path="url(#i1L)"/><ellipse cx="201" cy="175" rx="95" ry="82" fill="url(#gR)" clip-path="url(#i1R)"/><ellipse cx="73.8" cy="93" rx="17" ry="17" fill="url(#gR)"/><ellipse cx="224.4" cy="91.5" rx="17" ry="17" fill="url(#gB)"/><ellipse cx="76" cy="114" rx="14" ry="11" fill="url(#gB)"/><ellipse cx="222" cy="114" rx="14" ry="11" fill="url(#gR)"/><ellipse cx="122" cy="150" rx="26" ry="24" fill="url(#gB)" clip-path="url(#i1up)"/><ellipse cx="176" cy="150" rx="26" ry="24" fill="url(#gR)" clip-path="url(#i1up)"/><path d="M102,147.6 L144,147.6 Q140,161 144,175 L102,175 Q106,161 102,147.6 Z" fill="#ff0000"/><path d="M154,147.6 L196,147.6 Q192,161 196,175 L154,175 Q158,161 154,147.6 Z" fill="#0000ff"/><path d="M99,147.6 L102,147.6 Q106,161 102,175 L99,175 Q103,161 99,147.6 Z" fill="#ffff00"/><path d="M144,147.6 L147,147.6 Q143,161 147,175 L144,175 Q140,161 144,147.6 Z" fill="#a0ff00"/><path d="M151,147.6 L154,147.6 Q158,161 154,175 L151,175 Q155,161 151,147.6 Z" fill="#00ffff"/><path d="M196,147.6 L199,147.6 Q195,161 199,175 L196,175 Q192,161 196,147.6 Z" fill="#00ffff"/><ellipse cx="122" cy="175" rx="26" ry="22" fill="url(#gB)" clip-path="url(#i1dn)"/><ellipse cx="176" cy="175" rx="26" ry="22" fill="url(#gR)" clip-path="url(#i1dn)"/><ellipse cx="57" cy="174" rx="40" ry="24" fill="url(#gR3)" clip-path="url(#i1dn)"/><ellipse cx="243" cy="175" rx="38" ry="22" fill="url(#gB3)" clip-path="url(#i1dn)"/><rect x="0" y="146.8" width="297.5" height="1.6" fill="#a8d8c0"/><rect x="0" y="174.2" width="297.5" height="1.6" fill="#a8d8c0"/><rect x="80" y="104" width="140" height="1.6" fill="#80e0c0"/></g></g>
<g transform="translate(734.75,69.5)"><defs><clipPath id="i2all"><rect x="0" y="0" width="301.5" height="219.7"/></clipPath><clipPath id="i2up"><rect x="0" y="0" width="301.5" height="108"/></clipPath><clipPath id="i2mid"><rect x="0" y="108" width="301.5" height="40.5"/></clipPath><clipPath id="i2dn"><rect x="0" y="176.2" width="301.5" height="43.5"/></clipPath><clipPath id="i2upL"><rect x="0" y="0" width="150" height="148.5"/></clipPath><clipPath id="i2upR"><rect x="150" y="0" width="160" height="148.5"/></clipPath></defs><g clip-path="url(#i2all)"><rect x="0" y="0" width="301.5" height="219.7" fill="url(#gBg2)"/><ellipse cx="80" cy="60" rx="80" ry="75" fill="#c0ff00" opacity="0.5" filter="url(#blur12)"/><ellipse cx="222" cy="60" rx="80" ry="75" fill="#00ffc0" opacity="0.5" filter="url(#blur12)"/><ellipse cx="89" cy="56" rx="64" ry="48" fill="url(#gY)" clip-path="url(#i2upL)"/><ellipse cx="211" cy="56" rx="64" ry="48" fill="url(#gC)" clip-path="url(#i2upR)"/><ellipse cx="89" cy="79" rx="68" ry="52" fill="url(#gR2)" clip-path="url(#i2upL)"/><ellipse cx="211" cy="79" rx="67" ry="51" fill="url(#gB2)" clip-path="url(#i2upR)"/><rect x="74" y="108" width="153" height="40.5" fill="#10ff00"/><ellipse cx="40" cy="150" rx="40" ry="32" fill="url(#gB2)" clip-path="url(#i2mid)"/><ellipse cx="262" cy="150" rx="40" ry="32" fill="url(#gR2)" clip-path="url(#i2mid)"/><ellipse cx="100" cy="150" rx="36" ry="30" fill="url(#gR2)" clip-path="url(#i2mid)"/><ellipse cx="200" cy="150" rx="36" ry="30" fill="url(#gB2)" clip-path="url(#i2mid)"/><rect x="0" y="148.5" width="150.5" height="27.7" fill="url(#gLayB)"/><rect x="151.5" y="148.5" width="150" height="27.7" fill="url(#gLayR)"/><rect x="148.5" y="148.5" width="4.5" height="27.7" fill="#00ff60"/><ellipse cx="86" cy="175" rx="56" ry="30" fill="url(#gR3)" clip-path="url(#i2dn)"/><ellipse cx="218" cy="175" rx="56" ry="30" fill="url(#gB3)" clip-path="url(#i2dn)"/><rect x="0" y="147.7" width="301.5" height="1.6" fill="#a8d8c0"/><rect x="0" y="175.4" width="301.5" height="1.6" fill="#a8d8c0"/><rect x="74" y="107.2" width="153" height="1.6" fill="#90e8a0"/></g></g>
<path d="M383.86,93.75 L310.55,266.92 L300.88,262.83 L303,296.3 L328.51,274.52 L318.84,270.43 L392.14,97.25 Z" fill="#ffc000"/><path d="M1036.63,185.48 L1133.36,294.9 L1125.49,301.86 L1156.6,314.4 L1147.97,281.99 L1140.1,288.94 L1043.37,179.52 Z" fill="#ffc000"/>
<g transform="translate(1311.4,222) scale(1.0000)"><rect x="0" y="0" width="392.9" height="125.7" fill="#808080"/><rect x="0" y="-29.7" width="392.9" height="29.7" fill="#d5dce7"/><path d="M105,-84 A90.8,9 0 0 1 286.6,-84 L286.6,-35 A90.8,10 0 0 1 105,-35 Z" fill="#5a6070" opacity="0.35" transform="translate(0,4)" filter="url(#blur3)"/><path d="M103,-86.3 A92.8,9 0 0 1 288.6,-86.3 L288.6,-35 A92.8,10 0 0 1 103,-35 Z" fill="#7f7f7f"/><line x1="206" y1="-113" x2="270" y2="-113" stroke="#0d2a47" stroke-width="2.6"/><path d="M197.2,-113 L212,-120 L212,-106 Z" fill="#0d2a47"/><path d="M278.6,-113 L264,-120 L264,-106 Z" fill="#0d2a47"/><line x1="-23.7" y1="-32" x2="-23.7" y2="2" stroke="#0d2a47" stroke-width="2.6"/><path d="M-23.7,-40.6 L-31,-27 L-16.4,-27 Z" fill="#0d2a47"/><path d="M-23.7,10.3 L-31,-3.5 L-16.4,-3.5 Z" fill="#0d2a47"/></g><text transform="translate(1190,165.32) scale(1.0452,1)" font-size="38.169" fill="#000" xml:space="preserve"><tspan font-weight="bold">20 nm</tspan></text><text transform="translate(1596.38,113.4) scale(1.0358,1)" font-size="39.630" fill="#000" xml:space="preserve"><tspan font-weight="bold" font-style="italic">r</tspan><tspan font-weight="bold"> nm</tspan></text>
<g transform="translate(642.3,1019.5) scale(0.6908)"><rect x="0" y="0" width="392.9" height="125.7" fill="#808080"/><rect x="0" y="-29.7" width="392.9" height="29.7" fill="#d5dce7"/><path d="M105,-84 A90.8,9 0 0 1 286.6,-84 L286.6,-35 A90.8,10 0 0 1 105,-35 Z" fill="#5a6070" opacity="0.35" transform="translate(0,4)" filter="url(#blur3)"/><path d="M103,-86.3 A92.8,9 0 0 1 288.6,-86.3 L288.6,-35 A92.8,10 0 0 1 103,-35 Z" fill="#7f7f7f"/><line x1="206" y1="-113" x2="270" y2="-113" stroke="#0d2a47" stroke-width="2.6"/><path d="M197.2,-113 L212,-120 L212,-106 Z" fill="#0d2a47"/><path d="M278.6,-113 L264,-120 L264,-106 Z" fill="#0d2a47"/><line x1="-23.7" y1="-32" x2="-23.7" y2="2" stroke="#0d2a47" stroke-width="2.6"/><path d="M-23.7,-40.6 L-31,-27 L-16.4,-27 Z" fill="#0d2a47"/><path d="M-23.7,10.3 L-31,-3.5 L-16.4,-3.5 Z" fill="#0d2a47"/></g><text transform="translate(559.17,979.47) scale(1.1761,1)" font-size="23.401" fill="#000" xml:space="preserve"><tspan font-weight="bold" font-style="italic">d</tspan><tspan font-weight="bold"> nm</tspan></text><text transform="translate(838.81,943.27) scale(1.2097,1)" font-size="22.958" fill="#000" xml:space="preserve"><tspan font-weight="bold">30 nm</tspan></text>
<g transform="translate(1560.5,1026.2) scale(0.6908)"><rect x="0" y="0" width="392.9" height="125.7" fill="#808080"/><rect x="0" y="-29.7" width="392.9" height="29.7" fill="#d5dce7"/><path d="M105,-84 A90.8,9 0 0 1 286.6,-84 L286.6,-35 A90.8,10 0 0 1 105,-35 Z" fill="#5a6070" opacity="0.35" transform="translate(0,4)" filter="url(#blur3)"/><path d="M103,-86.3 A92.8,9 0 0 1 288.6,-86.3 L288.6,-35 A92.8,10 0 0 1 103,-35 Z" fill="#7f7f7f"/><line x1="206" y1="-113" x2="270" y2="-113" stroke="#0d2a47" stroke-width="2.6"/><path d="M197.2,-113 L212,-120 L212,-106 Z" fill="#0d2a47"/><path d="M278.6,-113 L264,-120 L264,-106 Z" fill="#0d2a47"/><line x1="-23.7" y1="-32" x2="-23.7" y2="2" stroke="#0d2a47" stroke-width="2.6"/><path d="M-23.7,-40.6 L-31,-27 L-16.4,-27 Z" fill="#0d2a47"/><path d="M-23.7,10.3 L-31,-3.5 L-16.4,-3.5 Z" fill="#0d2a47"/></g><text transform="translate(1477.27,985.77) scale(1.1918,1)" font-size="23.129" fill="#000" xml:space="preserve"><tspan font-weight="bold" font-style="italic">d</tspan><tspan font-weight="bold"> nm</tspan></text><text transform="translate(1757.29,948.77) scale(1.2038,1)" font-size="22.958" fill="#000" xml:space="preserve"><tspan font-weight="bold">40 nm</tspan></text>
<g transform="translate(296.8,1606.8) scale(0.6887)"><rect x="0" y="0" width="392.9" height="125.7" fill="#808080"/><rect x="0" y="-29.7" width="392.9" height="29.7" fill="#d5dce7"/><path d="M105,-84 A90.8,9 0 0 1 286.6,-84 L286.6,-35 A90.8,10 0 0 1 105,-35 Z" fill="#5a6070" opacity="0.35" transform="translate(0,4)" filter="url(#blur3)"/><path d="M103,-86.3 A92.8,9 0 0 1 288.6,-86.3 L288.6,-35 A92.8,10 0 0 1 103,-35 Z" fill="#7f7f7f"/><line x1="206" y1="-113" x2="270" y2="-113" stroke="#0d2a47" stroke-width="2.6"/><path d="M197.2,-113 L212,-120 L212,-106 Z" fill="#0d2a47"/><path d="M278.6,-113 L264,-120 L264,-106 Z" fill="#0d2a47"/><line x1="-23.7" y1="-32" x2="-23.7" y2="2" stroke="#0d2a47" stroke-width="2.6"/><path d="M-23.7,-40.6 L-31,-27 L-16.4,-27 Z" fill="#0d2a47"/><path d="M-23.7,10.3 L-31,-3.5 L-16.4,-3.5 Z" fill="#0d2a47"/></g><text transform="translate(214.57,1566.77) scale(1.1899,1)" font-size="23.129" fill="#000" xml:space="preserve"><tspan font-weight="bold" font-style="italic">d</tspan><tspan font-weight="bold"> nm</tspan></text><text transform="translate(493.28,1532.36) scale(1.1337,1)" font-size="24.225" fill="#000" xml:space="preserve"><tspan font-weight="bold">50 nm</tspan></text>
<g transform="translate(1284.1,1605.3) scale(0.6908)"><rect x="0" y="0" width="392.9" height="125.7" fill="#808080"/><rect x="0" y="-29.7" width="392.9" height="29.7" fill="#d5dce7"/><path d="M105,-84 A90.8,9 0 0 1 286.6,-84 L286.6,-35 A90.8,10 0 0 1 105,-35 Z" fill="#5a6070" opacity="0.35" transform="translate(0,4)" filter="url(#blur3)"/><path d="M103,-86.3 A92.8,9 0 0 1 288.6,-86.3 L288.6,-35 A92.8,10 0 0 1 103,-35 Z" fill="#7f7f7f"/><line x1="206" y1="-113" x2="270" y2="-113" stroke="#0d2a47" stroke-width="2.6"/><path d="M197.2,-113 L212,-120 L212,-106 Z" fill="#0d2a47"/><path d="M278.6,-113 L264,-120 L264,-106 Z" fill="#0d2a47"/><line x1="-23.7" y1="-32" x2="-23.7" y2="2" stroke="#0d2a47" stroke-width="2.6"/><path d="M-23.7,-40.6 L-31,-27 L-16.4,-27 Z" fill="#0d2a47"/><path d="M-23.7,10.3 L-31,-3.5 L-16.4,-3.5 Z" fill="#0d2a47"/></g><text transform="translate(1200.97,1563.97) scale(1.1899,1)" font-size="23.129" fill="#000" xml:space="preserve"><tspan font-weight="bold" font-style="italic">d</tspan><tspan font-weight="bold"> nm</tspan></text><text transform="translate(1481.34,1528.36) scale(1.1628,1)" font-size="23.662" fill="#000" xml:space="preserve"><tspan font-weight="bold">60 nm</tspan></text>
<rect x="1952.2" y="242.1" width="494.6" height="245" fill="none" stroke="#000" stroke-width="7"/><rect x="1985.7" y="272.2" width="152.7" height="8" fill="#0000ff"/><text transform="translate(2168.05,298.03) scale(1.1073,1)" font-size="57.324" fill="#000" xml:space="preserve"><tspan font-style="italic">r</tspan> = 30 nm</text><rect x="1985.7" y="329.7" width="152.7" height="8" fill="#00ff00"/><text transform="translate(2168.05,355.23) scale(1.1073,1)" font-size="57.324" fill="#000" xml:space="preserve"><tspan font-style="italic">r</tspan> = 40 nm</text><rect x="1985.7" y="387.2" width="152.7" height="8" fill="#ffa500"/><text transform="translate(2168.05,412.43) scale(1.1073,1)" font-size="57.324" fill="#000" xml:space="preserve"><tspan font-style="italic">r</tspan> = 50 nm</text><rect x="1985.7" y="444.7" width="152.7" height="8" fill="#ff0000"/><text transform="translate(2168.05,469.63) scale(1.1073,1)" font-size="57.324" fill="#000" xml:space="preserve"><tspan font-style="italic">r</tspan> = 60 nm</text>
<rect x="1949.5" y="1113.9" width="486.7" height="644.1" fill="none" stroke="#000" stroke-width="8"/><rect x="1976.7" y="1154" width="118.8" height="8.4" fill="#ff0000"/><text transform="translate(2121.52,1183.6) scale(1.0803,1)" font-size="60.408" fill="#000" xml:space="preserve"><tspan font-style="italic">d</tspan> = 10 nm</text><rect x="1976.7" y="1208.74" width="118.8" height="8.4" fill="#ff5500"/><text transform="translate(2121.52,1238.28) scale(1.0803,1)" font-size="60.408" fill="#000" xml:space="preserve"><tspan font-style="italic">d</tspan> = 12 nm</text><rect x="1976.7" y="1263.48" width="118.8" height="8.4" fill="#ffaa00"/><text transform="translate(2121.52,1292.96) scale(1.0803,1)" font-size="60.408" fill="#000" xml:space="preserve"><tspan font-style="italic">d</tspan> = 14 nm</text><rect x="1976.7" y="1318.22" width="118.8" height="8.4" fill="#ffff00"/><text transform="translate(2121.52,1347.64) scale(1.0803,1)" font-size="60.408" fill="#000" xml:space="preserve"><tspan font-style="italic">d</tspan> = 16 nm</text><rect x="1976.7" y="1372.96" width="118.8" height="8.4" fill="#80ff00"/><text transform="translate(2121.52,1402.32) scale(1.0803,1)" font-size="60.408" fill="#000" xml:space="preserve"><tspan font-style="italic">d</tspan> = 18 nm</text><rect x="1976.7" y="1427.7" width="118.8" height="8.4" fill="#00ff80"/><text transform="translate(2121.52,1457) scale(1.0803,1)" font-size="60.408" fill="#000" xml:space="preserve"><tspan font-style="italic">d</tspan> = 20 nm</text><rect x="1976.7" y="1482.44" width="118.8" height="8.4" fill="#00ffff"/><text transform="translate(2121.52,1511.68) scale(1.0803,1)" font-size="60.408" fill="#000" xml:space="preserve"><tspan font-style="italic">d</tspan> = 22 nm</text><rect x="1976.7" y="1537.18" width="118.8" height="8.4" fill="#00aaff"/><text transform="translate(2121.52,1566.36) scale(1.0803,1)" font-size="60.408" fill="#000" xml:space="preserve"><tspan font-style="italic">d</tspan> = 24 nm</text><rect x="1976.7" y="1591.92" width="118.8" height="8.4" fill="#0000ff"/><text transform="translate(2121.52,1621.04) scale(1.0803,1)" font-size="60.408" fill="#000" xml:space="preserve"><tspan font-style="italic">d</tspan> = 26 nm</text><rect x="1976.7" y="1646.66" width="118.8" height="8.4" fill="#7f00ff"/><text transform="translate(2121.52,1675.72) scale(1.0803,1)" font-size="60.408" fill="#000" xml:space="preserve"><tspan font-style="italic">d</tspan> = 28 nm</text><rect x="1976.7" y="1701.4" width="118.8" height="8.4" fill="#ff00cc"/><text transform="translate(2121.52,1730.4) scale(1.0803,1)" font-size="60.408" fill="#000" xml:space="preserve"><tspan font-style="italic">d</tspan> = 30 nm</text>
<text transform="translate(6.29,87.84) scale(1.0738,1)" font-size="78.396" fill="#000" xml:space="preserve"><tspan font-weight="bold">(a)</tspan></text>
<text transform="translate(2.82,903.42) scale(1.0844,1)" font-size="78.930" fill="#000" xml:space="preserve"><tspan font-weight="bold">(b)</tspan></text>
<text transform="translate(939.09,894.94) scale(1.0749,1)" font-size="78.396" fill="#000" xml:space="preserve"><tspan font-weight="bold">(c)</tspan></text>
<text transform="translate(6.26,1472.76) scale(1.0960,1)" font-size="77.326" fill="#000" xml:space="preserve"><tspan font-weight="bold">(d)</tspan></text>
<text transform="translate(939.09,1472.76) scale(1.0886,1)" font-size="77.326" fill="#000" xml:space="preserve"><tspan font-weight="bold">(e)</tspan></text>
<text transform="translate(818.38,806.9) scale(1.0826,1)" font-size="59.037" fill="#000" xml:space="preserve">Wavelength (nm)</text>
<text transform="translate(102.55,506.36) rotate(-90) scale(0.9191,1)" font-size="64.762" fill="#000" xml:space="preserve">Extinction</text>
<text transform="translate(372.3,1449.9) scale(1.1088,1)" font-size="54.759" fill="#000" xml:space="preserve">Wavelength (nm)</text>
<text transform="translate(105.72,1244.05) rotate(-90) scale(0.9759,1)" font-size="58.231" fill="#000" xml:space="preserve">Extinction</text>
<text transform="translate(1294,1451.29) scale(1.0979,1)" font-size="55.294" fill="#000" xml:space="preserve">Wavelength (nm)</text>
<text transform="translate(1029.4,1241.63) rotate(-90) scale(0.9439,1)" font-size="60.000" fill="#000" xml:space="preserve">Extinction</text>
<text transform="translate(371.1,2040.83) scale(1.0834,1)" font-size="56.043" fill="#000" xml:space="preserve">Wavelength (nm)</text>
<text transform="translate(105.71,1829.63) rotate(-90) scale(0.9614,1)" font-size="58.912" fill="#000" xml:space="preserve">Extinction</text>
<text transform="translate(1293.5,2040.83) scale(1.0844,1)" font-size="56.043" fill="#000" xml:space="preserve">Wavelength (nm)</text>
<text transform="translate(1026.22,1831.25) rotate(-90) scale(0.9759,1)" font-size="58.231" fill="#000" xml:space="preserve">Extinction</text>
<text transform="translate(138.91,654.55) scale(1.0300,1)" font-size="45.352" fill="#000" xml:space="preserve">0</text>
<text transform="translate(138.69,508) scale(1.0300,1)" font-size="46.667" fill="#000" xml:space="preserve">1</text>
<text transform="translate(139.27,361) scale(1.0300,1)" font-size="46.000" fill="#000" xml:space="preserve">2</text>
<text transform="translate(139.14,213.55) scale(1.0300,1)" font-size="45.352" fill="#000" xml:space="preserve">3</text>
<text transform="translate(137.97,67) scale(1.0300,1)" font-size="46.667" fill="#000" xml:space="preserve">4</text>
<text transform="translate(222.02,732.15) scale(1.0990,1)" font-size="44.648" fill="#000" xml:space="preserve">400</text>
<text transform="translate(746.85,732.15) scale(1.0972,1)" font-size="44.648" fill="#000" xml:space="preserve">600</text>
<text transform="translate(1274.53,732.15) scale(1.0824,1)" font-size="44.648" fill="#000" xml:space="preserve">800</text>
<text transform="translate(1789.35,732.15) scale(1.0897,1)" font-size="44.648" fill="#000" xml:space="preserve">1000</text>
<text transform="translate(143.87,1338.27) scale(1.0300,1)" font-size="43.380" fill="#000" xml:space="preserve">0</text>
<text transform="translate(143.65,1234.55) scale(1.0300,1)" font-size="44.638" fill="#000" xml:space="preserve">1</text>
<text transform="translate(144.21,1130.4) scale(1.0300,1)" font-size="44.000" fill="#000" xml:space="preserve">2</text>
<text transform="translate(144.09,1025.82) scale(1.0300,1)" font-size="43.380" fill="#000" xml:space="preserve">3</text>
<text transform="translate(142.96,922.1) scale(1.0300,1)" font-size="44.638" fill="#000" xml:space="preserve">4</text>
<text transform="translate(180.67,1395.57) scale(1.0737,1)" font-size="43.099" fill="#000" xml:space="preserve">400</text>
<text transform="translate(414.83,1395.57) scale(1.0999,1)" font-size="43.099" fill="#000" xml:space="preserve">600</text>
<text transform="translate(651.87,1395.57) scale(1.0965,1)" font-size="43.099" fill="#000" xml:space="preserve">800</text>
<text transform="translate(885.46,1395.57) scale(1.0652,1)" font-size="43.099" fill="#000" xml:space="preserve">1000</text>
<text transform="translate(1061.74,1339.21) scale(1.0300,1)" font-size="44.366" fill="#000" xml:space="preserve">0</text>
<text transform="translate(1061.52,1235.35) scale(1.0300,1)" font-size="45.652" fill="#000" xml:space="preserve">1</text>
<text transform="translate(1062.09,1131.05) scale(1.0300,1)" font-size="45.000" fill="#000" xml:space="preserve">2</text>
<text transform="translate(1061.97,1026.31) scale(1.0300,1)" font-size="44.366" fill="#000" xml:space="preserve">3</text>
<text transform="translate(1060.81,922.45) scale(1.0300,1)" font-size="45.652" fill="#000" xml:space="preserve">4</text>
<text transform="translate(1100.16,1395.57) scale(1.0852,1)" font-size="43.099" fill="#000" xml:space="preserve">400</text>
<text transform="translate(1334.73,1395.57) scale(1.0999,1)" font-size="43.099" fill="#000" xml:space="preserve">600</text>
<text transform="translate(1571.77,1395.57) scale(1.0965,1)" font-size="43.099" fill="#000" xml:space="preserve">800</text>
<text transform="translate(1803.25,1395.57) scale(1.0663,1)" font-size="43.099" fill="#000" xml:space="preserve">1000</text>
<text transform="translate(143.87,1935.07) scale(1.0300,1)" font-size="43.380" fill="#000" xml:space="preserve">0</text>
<text transform="translate(143.65,1831.3) scale(1.0300,1)" font-size="44.638" fill="#000" xml:space="preserve">1</text>
<text transform="translate(144.21,1727.1) scale(1.0300,1)" font-size="44.000" fill="#000" xml:space="preserve">2</text>
<text transform="translate(144.09,1622.47) scale(1.0300,1)" font-size="43.380" fill="#000" xml:space="preserve">3</text>
<text transform="translate(142.96,1518.7) scale(1.0300,1)" font-size="44.638" fill="#000" xml:space="preserve">4</text>
<text transform="translate(179.47,1981.26) scale(1.0587,1)" font-size="43.944" fill="#000" xml:space="preserve">400</text>
<text transform="translate(414.89,1981.26) scale(1.0500,1)" font-size="43.944" fill="#000" xml:space="preserve">600</text>
<text transform="translate(649.93,1981.26) scale(1.0467,1)" font-size="43.944" fill="#000" xml:space="preserve">800</text>
<text transform="translate(881.35,1981.26) scale(1.0458,1)" font-size="43.944" fill="#000" xml:space="preserve">1000</text>
<text transform="translate(1060.97,1930.97) scale(1.0300,1)" font-size="43.380" fill="#000" xml:space="preserve">0</text>
<text transform="translate(1060.75,1826.9) scale(1.0300,1)" font-size="44.638" fill="#000" xml:space="preserve">1</text>
<text transform="translate(1061.31,1722.4) scale(1.0300,1)" font-size="44.000" fill="#000" xml:space="preserve">2</text>
<text transform="translate(1061.19,1617.47) scale(1.0300,1)" font-size="43.380" fill="#000" xml:space="preserve">3</text>
<text transform="translate(1060.06,1513.4) scale(1.0300,1)" font-size="44.638" fill="#000" xml:space="preserve">4</text>
<text transform="translate(1096.05,1981.26) scale(1.0756,1)" font-size="43.944" fill="#000" xml:space="preserve">400</text>
<text transform="translate(1330.63,1981.26) scale(1.0788,1)" font-size="43.944" fill="#000" xml:space="preserve">600</text>
<text transform="translate(1567.77,1981.26) scale(1.0754,1)" font-size="43.944" fill="#000" xml:space="preserve">800</text>
<text transform="translate(1799.26,1981.26) scale(1.0448,1)" font-size="43.944" fill="#000" xml:space="preserve">1000</text>
</svg>
</body></html>
